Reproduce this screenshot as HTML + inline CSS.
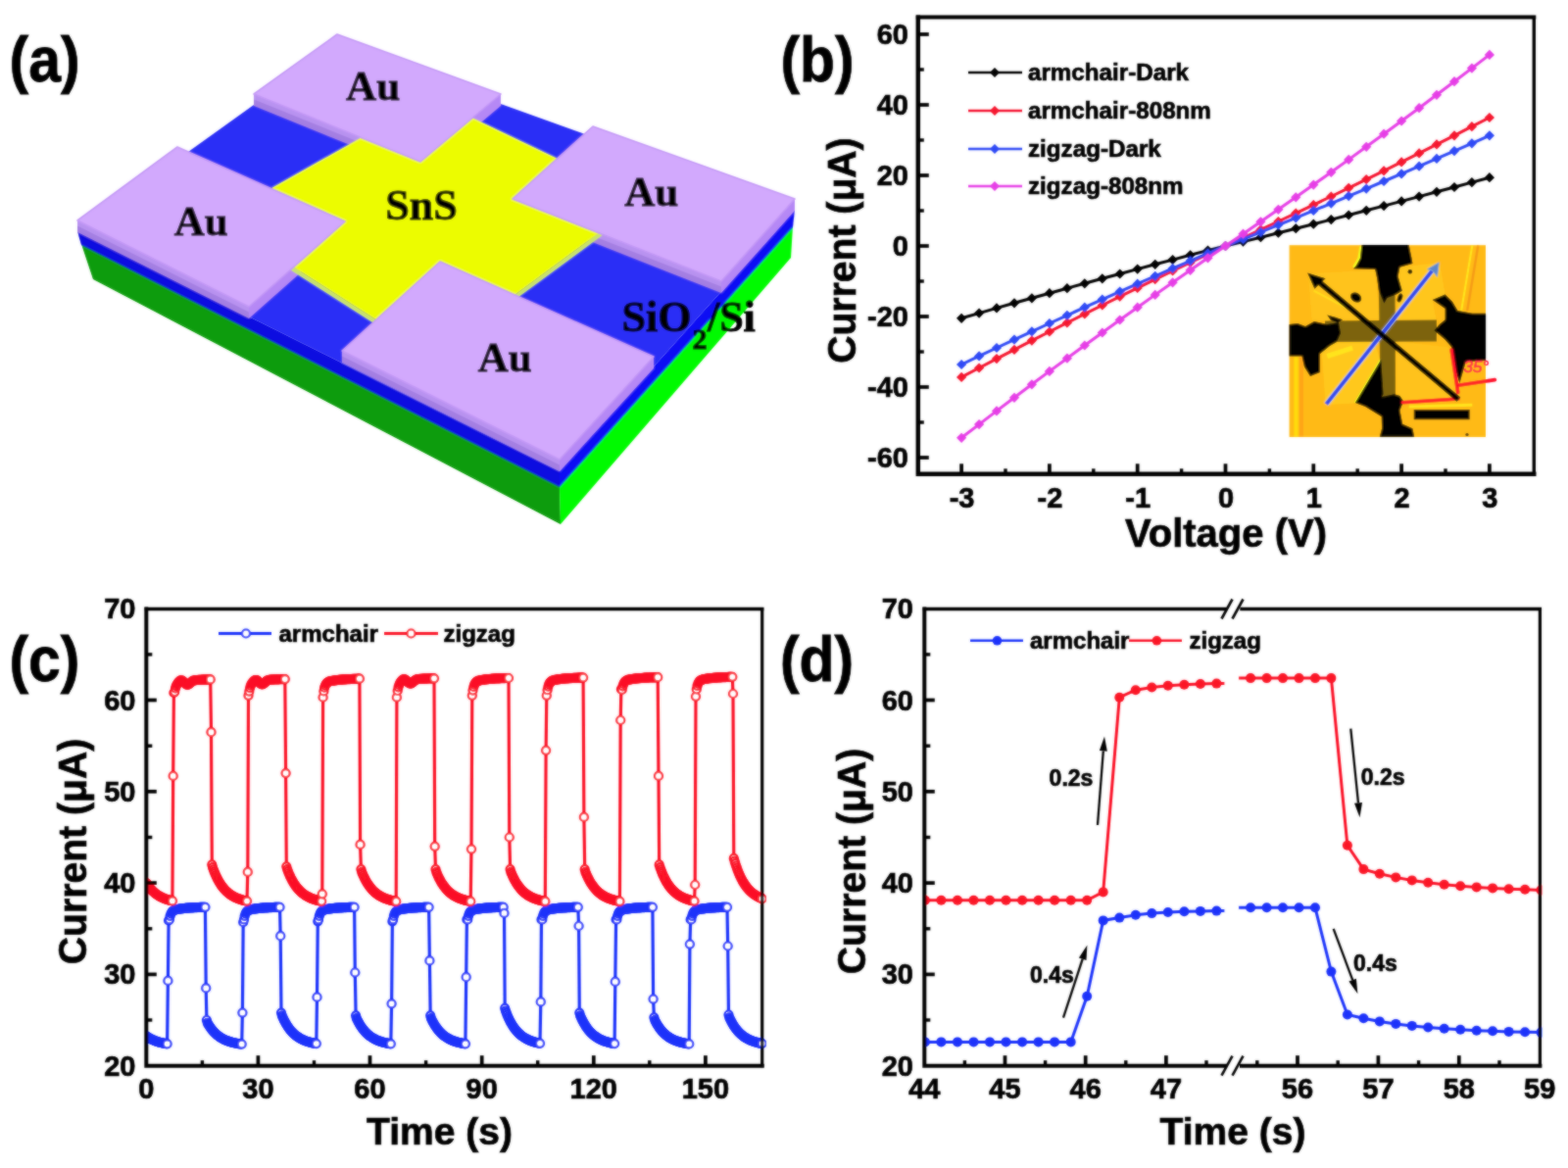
<!DOCTYPE html>
<html lang="en">
<head>
<meta charset="utf-8">
<title>SnS photodetector figure</title>
<style>
html,body{margin:0;padding:0;background:#fff;}
body{width:1600px;height:1192px;overflow:hidden;}
svg{display:block;}
</style>
</head>
<body>
<svg width="1600" height="1192" viewBox="0 0 1600 1192">
<defs><filter id="soft" x="0" y="0" width="100%" height="100%" filterUnits="userSpaceOnUse"><feGaussianBlur stdDeviation="0.8" result="b"/><feComposite in="SourceGraphic" in2="b" operator="arithmetic" k1="0" k2="0.4" k3="0.6" k4="0"/></filter></defs>
<rect width="1600" height="1192" fill="#fff"/>
<g filter="url(#soft)">
<g id="panel-a">
<polygon points="83.0,249.0 571.0,496.0 572.0,535.0 95.0,285.0" fill="#079c07" />
<polygon points="571.0,496.0 809.0,231.0 807.0,263.0 572.0,535.0" fill="#06fa06" />
<polygon points="79.0,236.0 571.0,481.0 571.0,497.0 83.0,250.0" fill="#0808e0" />
<polygon points="571.0,481.0 811.0,214.0 809.0,232.0 571.0,497.0" fill="#1010f4" />
<polygon points="79.0,236.0 344.0,46.0 811.0,214.0 571.0,481.0" fill="#2a2ef6" />
<polygon points="259.0,96.0 429.0,165.0 429.0,177.0 259.0,108.0" fill="#a47fe2" />
<polygon points="259.0,96.0 429.0,165.0 429.0,170.4 259.0,101.4" fill="#b892f0" />
<polygon points="429.0,165.0 511.0,96.0 511.0,108.0 429.0,177.0" fill="#b588f5" />
<polygon points="523.0,203.0 736.0,287.0 736.0,299.0 523.0,215.0" fill="#a47fe2" />
<polygon points="523.0,203.0 736.0,287.0 736.0,292.4 523.0,208.4" fill="#b892f0" />
<polygon points="736.0,287.0 811.0,203.0 811.0,215.0 736.0,299.0" fill="#b588f5" />
<polygon points="79.0,225.0 254.0,313.0 254.0,325.0 79.0,237.0" fill="#a47fe2" />
<polygon points="79.0,225.0 254.0,313.0 254.0,318.4 79.0,230.4" fill="#b892f0" />
<polygon points="254.0,313.0 352.0,226.0 352.0,238.0 254.0,325.0" fill="#b588f5" />
<polygon points="349.0,358.0 571.0,469.0 571.0,481.0 349.0,370.0" fill="#a47fe2" />
<polygon points="349.0,358.0 571.0,469.0 571.0,474.4 349.0,363.4" fill="#b892f0" />
<polygon points="571.0,469.0 667.0,364.0 667.0,376.0 571.0,481.0" fill="#b588f5" />
<polygon points="222.0,223.0 441.0,363.0 657.0,204.0 657.0,209.0 441.0,368.0 222.0,228.0" fill="#c9e36a" />
<polygon points="222.0,223.0 440.0,100.0 657.0,204.0 441.0,363.0" fill="#ecfc06" />
<polygon points="344.0,35.0 511.0,96.0 429.0,165.0 259.0,96.0" fill="#d2a9fd" stroke="#c398f6" stroke-width="1.6" stroke-linejoin="round"/>
<polygon points="605.0,129.0 811.0,203.0 736.0,287.0 523.0,203.0" fill="#d2a9fd" stroke="#c398f6" stroke-width="1.6" stroke-linejoin="round"/>
<polygon points="181.0,150.0 352.0,226.0 254.0,313.0 79.0,225.0" fill="#d2a9fd" stroke="#c398f6" stroke-width="1.6" stroke-linejoin="round"/>
<polygon points="449.0,267.0 667.0,364.0 571.0,469.0 349.0,358.0" fill="#d2a9fd" stroke="#c398f6" stroke-width="1.6" stroke-linejoin="round"/>
<text x="380.6" y="102.0" font-size="43" text-anchor="middle" fill="#000" stroke="#000" stroke-width="1.0" font-family="'Liberation Serif', serif" font-weight="bold" >Au</text>
<text x="664.8" y="210.0" font-size="43" text-anchor="middle" fill="#000" stroke="#000" stroke-width="1.0" font-family="'Liberation Serif', serif" font-weight="bold" >Au</text>
<text x="205.2" y="240.0" font-size="43" text-anchor="middle" fill="#000" stroke="#000" stroke-width="1.0" font-family="'Liberation Serif', serif" font-weight="bold" >Au</text>
<text x="515.2" y="379.0" font-size="43" text-anchor="middle" fill="#000" stroke="#000" stroke-width="1.0" font-family="'Liberation Serif', serif" font-weight="bold" >Au</text>
<text x="430.0" y="223.7" font-size="44" text-anchor="middle" fill="#000" stroke="#000" stroke-width="1.0" font-family="'Liberation Serif', serif" font-weight="bold" >SnS</text>
<text x="634.5" y="338" font-size="44" fill="#000" stroke="#000" stroke-width="1.0" font-family="'Liberation Serif', serif" font-weight="bold">SiO<tspan font-size="30" dy="18" dx="1">2</tspan><tspan dy="-18" dx="0.5">/Si</tspan></text>
</g>
<g id="panel-b">
<polyline points="981.1,324.8 999.1,319.6 1017.0,314.4 1035.0,309.3 1052.9,304.3 1070.9,299.2 1088.9,294.2 1106.8,289.3 1124.8,284.3 1142.7,279.5 1160.7,274.6 1178.7,269.8 1196.6,265.1 1214.6,260.3 1232.5,255.6 1250.5,251.0 1268.5,246.6 1286.4,242.2 1304.4,237.7 1322.3,233.2 1340.3,228.7 1358.3,224.1 1376.2,219.5 1394.2,214.8 1412.1,210.1 1430.1,205.4 1448.1,200.6 1466.0,195.8 1484.0,191.0 1501.9,186.1 1519.9,181.2" fill="none" stroke="#000" stroke-width="3"/>
<path d="M981.1 319.7L986.2 324.8L981.1 329.9L976.0 324.8Z" fill="#000"/>
<path d="M999.1 314.5L1004.2 319.6L999.1 324.7L994.0 319.6Z" fill="#000"/>
<path d="M1017.0 309.3L1022.1 314.4L1017.0 319.5L1011.9 314.4Z" fill="#000"/>
<path d="M1035.0 304.2L1040.1 309.3L1035.0 314.4L1029.9 309.3Z" fill="#000"/>
<path d="M1052.9 299.2L1058.0 304.3L1052.9 309.4L1047.8 304.3Z" fill="#000"/>
<path d="M1070.9 294.1L1076.0 299.2L1070.9 304.3L1065.8 299.2Z" fill="#000"/>
<path d="M1088.9 289.1L1094.0 294.2L1088.9 299.3L1083.8 294.2Z" fill="#000"/>
<path d="M1106.8 284.2L1111.9 289.3L1106.8 294.4L1101.7 289.3Z" fill="#000"/>
<path d="M1124.8 279.2L1129.9 284.3L1124.8 289.4L1119.7 284.3Z" fill="#000"/>
<path d="M1142.7 274.4L1147.8 279.5L1142.7 284.6L1137.6 279.5Z" fill="#000"/>
<path d="M1160.7 269.5L1165.8 274.6L1160.7 279.7L1155.6 274.6Z" fill="#000"/>
<path d="M1178.7 264.7L1183.8 269.8L1178.7 274.9L1173.6 269.8Z" fill="#000"/>
<path d="M1196.6 260.0L1201.7 265.1L1196.6 270.2L1191.5 265.1Z" fill="#000"/>
<path d="M1214.6 255.2L1219.7 260.3L1214.6 265.4L1209.5 260.3Z" fill="#000"/>
<path d="M1232.5 250.5L1237.6 255.6L1232.5 260.7L1227.4 255.6Z" fill="#000"/>
<path d="M1250.5 245.9L1255.6 251.0L1250.5 256.1L1245.4 251.0Z" fill="#000"/>
<path d="M1268.5 241.5L1273.6 246.6L1268.5 251.7L1263.4 246.6Z" fill="#000"/>
<path d="M1286.4 237.1L1291.5 242.2L1286.4 247.3L1281.3 242.2Z" fill="#000"/>
<path d="M1304.4 232.6L1309.5 237.7L1304.4 242.8L1299.3 237.7Z" fill="#000"/>
<path d="M1322.3 228.1L1327.4 233.2L1322.3 238.3L1317.2 233.2Z" fill="#000"/>
<path d="M1340.3 223.6L1345.4 228.7L1340.3 233.8L1335.2 228.7Z" fill="#000"/>
<path d="M1358.3 219.0L1363.4 224.1L1358.3 229.2L1353.2 224.1Z" fill="#000"/>
<path d="M1376.2 214.4L1381.3 219.5L1376.2 224.6L1371.1 219.5Z" fill="#000"/>
<path d="M1394.2 209.7L1399.3 214.8L1394.2 219.9L1389.1 214.8Z" fill="#000"/>
<path d="M1412.1 205.0L1417.2 210.1L1412.1 215.2L1407.0 210.1Z" fill="#000"/>
<path d="M1430.1 200.3L1435.2 205.4L1430.1 210.5L1425.0 205.4Z" fill="#000"/>
<path d="M1448.1 195.5L1453.2 200.6L1448.1 205.7L1443.0 200.6Z" fill="#000"/>
<path d="M1466.0 190.7L1471.1 195.8L1466.0 200.9L1460.9 195.8Z" fill="#000"/>
<path d="M1484.0 185.9L1489.1 191.0L1484.0 196.1L1478.9 191.0Z" fill="#000"/>
<path d="M1501.9 181.0L1507.0 186.1L1501.9 191.2L1496.8 186.1Z" fill="#000"/>
<path d="M1519.9 176.1L1525.0 181.2L1519.9 186.3L1514.8 181.2Z" fill="#000"/>
<polyline points="981.1,384.9 999.1,375.5 1017.0,366.1 1035.0,356.9 1052.9,347.6 1070.9,338.5 1088.9,329.4 1106.8,320.4 1124.8,311.5 1142.7,302.6 1160.7,293.9 1178.7,285.1 1196.6,276.5 1214.6,267.9 1232.5,259.4 1250.5,251.0 1268.5,242.8 1286.4,234.4 1304.4,226.0 1322.3,217.6 1340.3,209.1 1358.3,200.5 1376.2,191.8 1394.2,183.1 1412.1,174.3 1430.1,165.4 1448.1,156.4 1466.0,147.4 1484.0,138.3 1501.9,129.2 1519.9,120.0" fill="none" stroke="#f5142e" stroke-width="3"/>
<path d="M981.1 379.8L986.2 384.9L981.1 390.0L976.0 384.9Z" fill="#f5142e"/>
<path d="M999.1 370.4L1004.2 375.5L999.1 380.6L994.0 375.5Z" fill="#f5142e"/>
<path d="M1017.0 361.0L1022.1 366.1L1017.0 371.2L1011.9 366.1Z" fill="#f5142e"/>
<path d="M1035.0 351.8L1040.1 356.9L1035.0 362.0L1029.9 356.9Z" fill="#f5142e"/>
<path d="M1052.9 342.5L1058.0 347.6L1052.9 352.7L1047.8 347.6Z" fill="#f5142e"/>
<path d="M1070.9 333.4L1076.0 338.5L1070.9 343.6L1065.8 338.5Z" fill="#f5142e"/>
<path d="M1088.9 324.3L1094.0 329.4L1088.9 334.5L1083.8 329.4Z" fill="#f5142e"/>
<path d="M1106.8 315.3L1111.9 320.4L1106.8 325.5L1101.7 320.4Z" fill="#f5142e"/>
<path d="M1124.8 306.4L1129.9 311.5L1124.8 316.6L1119.7 311.5Z" fill="#f5142e"/>
<path d="M1142.7 297.5L1147.8 302.6L1142.7 307.7L1137.6 302.6Z" fill="#f5142e"/>
<path d="M1160.7 288.8L1165.8 293.9L1160.7 299.0L1155.6 293.9Z" fill="#f5142e"/>
<path d="M1178.7 280.0L1183.8 285.1L1178.7 290.2L1173.6 285.1Z" fill="#f5142e"/>
<path d="M1196.6 271.4L1201.7 276.5L1196.6 281.6L1191.5 276.5Z" fill="#f5142e"/>
<path d="M1214.6 262.8L1219.7 267.9L1214.6 273.0L1209.5 267.9Z" fill="#f5142e"/>
<path d="M1232.5 254.3L1237.6 259.4L1232.5 264.5L1227.4 259.4Z" fill="#f5142e"/>
<path d="M1250.5 245.9L1255.6 251.0L1250.5 256.1L1245.4 251.0Z" fill="#f5142e"/>
<path d="M1268.5 237.7L1273.6 242.8L1268.5 247.9L1263.4 242.8Z" fill="#f5142e"/>
<path d="M1286.4 229.3L1291.5 234.4L1286.4 239.5L1281.3 234.4Z" fill="#f5142e"/>
<path d="M1304.4 220.9L1309.5 226.0L1304.4 231.1L1299.3 226.0Z" fill="#f5142e"/>
<path d="M1322.3 212.5L1327.4 217.6L1322.3 222.7L1317.2 217.6Z" fill="#f5142e"/>
<path d="M1340.3 204.0L1345.4 209.1L1340.3 214.2L1335.2 209.1Z" fill="#f5142e"/>
<path d="M1358.3 195.4L1363.4 200.5L1358.3 205.6L1353.2 200.5Z" fill="#f5142e"/>
<path d="M1376.2 186.7L1381.3 191.8L1376.2 196.9L1371.1 191.8Z" fill="#f5142e"/>
<path d="M1394.2 178.0L1399.3 183.1L1394.2 188.2L1389.1 183.1Z" fill="#f5142e"/>
<path d="M1412.1 169.2L1417.2 174.3L1412.1 179.4L1407.0 174.3Z" fill="#f5142e"/>
<path d="M1430.1 160.3L1435.2 165.4L1430.1 170.5L1425.0 165.4Z" fill="#f5142e"/>
<path d="M1448.1 151.3L1453.2 156.4L1448.1 161.5L1443.0 156.4Z" fill="#f5142e"/>
<path d="M1466.0 142.3L1471.1 147.4L1466.0 152.5L1460.9 147.4Z" fill="#f5142e"/>
<path d="M1484.0 133.2L1489.1 138.3L1484.0 143.4L1478.9 138.3Z" fill="#f5142e"/>
<path d="M1501.9 124.1L1507.0 129.2L1501.9 134.3L1496.8 129.2Z" fill="#f5142e"/>
<path d="M1519.9 114.9L1525.0 120.0L1519.9 125.1L1514.8 120.0Z" fill="#f5142e"/>
<polyline points="981.1,372.0 999.1,363.4 1017.0,355.0 1035.0,346.6 1052.9,338.3 1070.9,330.0 1088.9,321.8 1106.8,313.7 1124.8,305.6 1142.7,297.6 1160.7,289.7 1178.7,281.8 1196.6,274.0 1214.6,266.3 1232.5,258.6 1250.5,251.0 1268.5,243.9 1286.4,236.8 1304.4,229.5 1322.3,222.3 1340.3,214.9 1358.3,207.6 1376.2,200.1 1394.2,192.6 1412.1,185.0 1430.1,177.4 1448.1,169.7 1466.0,161.9 1484.0,154.1 1501.9,146.3 1519.9,138.3" fill="none" stroke="#2d48f5" stroke-width="3"/>
<path d="M981.1 366.9L986.2 372.0L981.1 377.1L976.0 372.0Z" fill="#2d48f5"/>
<path d="M999.1 358.3L1004.2 363.4L999.1 368.5L994.0 363.4Z" fill="#2d48f5"/>
<path d="M1017.0 349.9L1022.1 355.0L1017.0 360.1L1011.9 355.0Z" fill="#2d48f5"/>
<path d="M1035.0 341.5L1040.1 346.6L1035.0 351.7L1029.9 346.6Z" fill="#2d48f5"/>
<path d="M1052.9 333.2L1058.0 338.3L1052.9 343.4L1047.8 338.3Z" fill="#2d48f5"/>
<path d="M1070.9 324.9L1076.0 330.0L1070.9 335.1L1065.8 330.0Z" fill="#2d48f5"/>
<path d="M1088.9 316.7L1094.0 321.8L1088.9 326.9L1083.8 321.8Z" fill="#2d48f5"/>
<path d="M1106.8 308.6L1111.9 313.7L1106.8 318.8L1101.7 313.7Z" fill="#2d48f5"/>
<path d="M1124.8 300.5L1129.9 305.6L1124.8 310.7L1119.7 305.6Z" fill="#2d48f5"/>
<path d="M1142.7 292.5L1147.8 297.6L1142.7 302.7L1137.6 297.6Z" fill="#2d48f5"/>
<path d="M1160.7 284.6L1165.8 289.7L1160.7 294.8L1155.6 289.7Z" fill="#2d48f5"/>
<path d="M1178.7 276.7L1183.8 281.8L1178.7 286.9L1173.6 281.8Z" fill="#2d48f5"/>
<path d="M1196.6 268.9L1201.7 274.0L1196.6 279.1L1191.5 274.0Z" fill="#2d48f5"/>
<path d="M1214.6 261.2L1219.7 266.3L1214.6 271.4L1209.5 266.3Z" fill="#2d48f5"/>
<path d="M1232.5 253.5L1237.6 258.6L1232.5 263.7L1227.4 258.6Z" fill="#2d48f5"/>
<path d="M1250.5 245.9L1255.6 251.0L1250.5 256.1L1245.4 251.0Z" fill="#2d48f5"/>
<path d="M1268.5 238.8L1273.6 243.9L1268.5 249.0L1263.4 243.9Z" fill="#2d48f5"/>
<path d="M1286.4 231.7L1291.5 236.8L1286.4 241.9L1281.3 236.8Z" fill="#2d48f5"/>
<path d="M1304.4 224.4L1309.5 229.5L1304.4 234.6L1299.3 229.5Z" fill="#2d48f5"/>
<path d="M1322.3 217.2L1327.4 222.3L1322.3 227.4L1317.2 222.3Z" fill="#2d48f5"/>
<path d="M1340.3 209.8L1345.4 214.9L1340.3 220.0L1335.2 214.9Z" fill="#2d48f5"/>
<path d="M1358.3 202.5L1363.4 207.6L1358.3 212.7L1353.2 207.6Z" fill="#2d48f5"/>
<path d="M1376.2 195.0L1381.3 200.1L1376.2 205.2L1371.1 200.1Z" fill="#2d48f5"/>
<path d="M1394.2 187.5L1399.3 192.6L1394.2 197.7L1389.1 192.6Z" fill="#2d48f5"/>
<path d="M1412.1 179.9L1417.2 185.0L1412.1 190.1L1407.0 185.0Z" fill="#2d48f5"/>
<path d="M1430.1 172.3L1435.2 177.4L1430.1 182.5L1425.0 177.4Z" fill="#2d48f5"/>
<path d="M1448.1 164.6L1453.2 169.7L1448.1 174.8L1443.0 169.7Z" fill="#2d48f5"/>
<path d="M1466.0 156.8L1471.1 161.9L1466.0 167.0L1460.9 161.9Z" fill="#2d48f5"/>
<path d="M1484.0 149.0L1489.1 154.1L1484.0 159.2L1478.9 154.1Z" fill="#2d48f5"/>
<path d="M1501.9 141.2L1507.0 146.3L1501.9 151.4L1496.8 146.3Z" fill="#2d48f5"/>
<path d="M1519.9 133.2L1525.0 138.3L1519.9 143.4L1514.8 138.3Z" fill="#2d48f5"/>
<polyline points="981.1,446.8 999.1,433.1 1017.0,419.4 1035.0,405.8 1052.9,392.3 1070.9,378.9 1088.9,365.7 1106.8,352.5 1124.8,339.5 1142.7,326.5 1160.7,313.7 1178.7,300.9 1196.6,288.3 1214.6,275.8 1232.5,263.3 1250.5,251.0 1268.5,238.7 1286.4,226.3 1304.4,213.8 1322.3,201.3 1340.3,188.6 1358.3,175.8 1376.2,162.9 1394.2,149.8 1412.1,136.7 1430.1,123.5 1448.1,110.2 1466.0,96.8 1484.0,83.2 1501.9,69.6 1519.9,55.9" fill="none" stroke="#e63ee6" stroke-width="3"/>
<path d="M981.1 441.7L986.2 446.8L981.1 451.9L976.0 446.8Z" fill="#e63ee6"/>
<path d="M999.1 428.0L1004.2 433.1L999.1 438.2L994.0 433.1Z" fill="#e63ee6"/>
<path d="M1017.0 414.3L1022.1 419.4L1017.0 424.5L1011.9 419.4Z" fill="#e63ee6"/>
<path d="M1035.0 400.7L1040.1 405.8L1035.0 410.9L1029.9 405.8Z" fill="#e63ee6"/>
<path d="M1052.9 387.2L1058.0 392.3L1052.9 397.4L1047.8 392.3Z" fill="#e63ee6"/>
<path d="M1070.9 373.8L1076.0 378.9L1070.9 384.0L1065.8 378.9Z" fill="#e63ee6"/>
<path d="M1088.9 360.6L1094.0 365.7L1088.9 370.8L1083.8 365.7Z" fill="#e63ee6"/>
<path d="M1106.8 347.4L1111.9 352.5L1106.8 357.6L1101.7 352.5Z" fill="#e63ee6"/>
<path d="M1124.8 334.4L1129.9 339.5L1124.8 344.6L1119.7 339.5Z" fill="#e63ee6"/>
<path d="M1142.7 321.4L1147.8 326.5L1142.7 331.6L1137.6 326.5Z" fill="#e63ee6"/>
<path d="M1160.7 308.6L1165.8 313.7L1160.7 318.8L1155.6 313.7Z" fill="#e63ee6"/>
<path d="M1178.7 295.8L1183.8 300.9L1178.7 306.0L1173.6 300.9Z" fill="#e63ee6"/>
<path d="M1196.6 283.2L1201.7 288.3L1196.6 293.4L1191.5 288.3Z" fill="#e63ee6"/>
<path d="M1214.6 270.7L1219.7 275.8L1214.6 280.9L1209.5 275.8Z" fill="#e63ee6"/>
<path d="M1232.5 258.2L1237.6 263.3L1232.5 268.4L1227.4 263.3Z" fill="#e63ee6"/>
<path d="M1250.5 245.9L1255.6 251.0L1250.5 256.1L1245.4 251.0Z" fill="#e63ee6"/>
<path d="M1268.5 233.6L1273.6 238.7L1268.5 243.8L1263.4 238.7Z" fill="#e63ee6"/>
<path d="M1286.4 221.2L1291.5 226.3L1286.4 231.4L1281.3 226.3Z" fill="#e63ee6"/>
<path d="M1304.4 208.7L1309.5 213.8L1304.4 218.9L1299.3 213.8Z" fill="#e63ee6"/>
<path d="M1322.3 196.2L1327.4 201.3L1322.3 206.4L1317.2 201.3Z" fill="#e63ee6"/>
<path d="M1340.3 183.5L1345.4 188.6L1340.3 193.7L1335.2 188.6Z" fill="#e63ee6"/>
<path d="M1358.3 170.7L1363.4 175.8L1358.3 180.9L1353.2 175.8Z" fill="#e63ee6"/>
<path d="M1376.2 157.8L1381.3 162.9L1376.2 168.0L1371.1 162.9Z" fill="#e63ee6"/>
<path d="M1394.2 144.7L1399.3 149.8L1394.2 154.9L1389.1 149.8Z" fill="#e63ee6"/>
<path d="M1412.1 131.6L1417.2 136.7L1412.1 141.8L1407.0 136.7Z" fill="#e63ee6"/>
<path d="M1430.1 118.4L1435.2 123.5L1430.1 128.6L1425.0 123.5Z" fill="#e63ee6"/>
<path d="M1448.1 105.1L1453.2 110.2L1448.1 115.3L1443.0 110.2Z" fill="#e63ee6"/>
<path d="M1466.0 91.7L1471.1 96.8L1466.0 101.9L1460.9 96.8Z" fill="#e63ee6"/>
<path d="M1484.0 78.1L1489.1 83.2L1484.0 88.3L1478.9 83.2Z" fill="#e63ee6"/>
<path d="M1501.9 64.5L1507.0 69.6L1501.9 74.7L1496.8 69.6Z" fill="#e63ee6"/>
<path d="M1519.9 50.8L1525.0 55.9L1519.9 61.0L1514.8 55.9Z" fill="#e63ee6"/>
<path d="M936.8 17.6V483.8H1565.3" stroke="#000" stroke-linecap="square" fill="none" stroke-width="4.4"/><path d="M936.8 17.6H1565.3" stroke="#000" stroke-linecap="square" fill="none" stroke-width="4.0"/><path d="M1565.3 17.6V483.8" stroke="#000" stroke-linecap="square" fill="none" stroke-width="3.4"/>
<line x1="936.8" y1="35.0" x2="947.8" y2="35.0" stroke="#000" stroke-width="3.7"/><line x1="936.8" y1="107.0" x2="947.8" y2="107.0" stroke="#000" stroke-width="3.7"/><line x1="936.8" y1="179.0" x2="947.8" y2="179.0" stroke="#000" stroke-width="3.7"/><line x1="936.8" y1="251.0" x2="947.8" y2="251.0" stroke="#000" stroke-width="3.7"/><line x1="936.8" y1="323.0" x2="947.8" y2="323.0" stroke="#000" stroke-width="3.7"/><line x1="936.8" y1="395.0" x2="947.8" y2="395.0" stroke="#000" stroke-width="3.7"/><line x1="936.8" y1="467.0" x2="947.8" y2="467.0" stroke="#000" stroke-width="3.7"/>
<line x1="936.8" y1="71.0" x2="942.8" y2="71.0" stroke="#000" stroke-width="3.4"/><line x1="936.8" y1="143.0" x2="942.8" y2="143.0" stroke="#000" stroke-width="3.4"/><line x1="936.8" y1="215.0" x2="942.8" y2="215.0" stroke="#000" stroke-width="3.4"/><line x1="936.8" y1="287.0" x2="942.8" y2="287.0" stroke="#000" stroke-width="3.4"/><line x1="936.8" y1="359.0" x2="942.8" y2="359.0" stroke="#000" stroke-width="3.4"/><line x1="936.8" y1="431.0" x2="942.8" y2="431.0" stroke="#000" stroke-width="3.4"/>
<line x1="981.1" y1="483.8" x2="981.1" y2="473.3" stroke="#000" stroke-width="3.7"/><line x1="1070.9" y1="483.8" x2="1070.9" y2="473.3" stroke="#000" stroke-width="3.7"/><line x1="1160.7" y1="483.8" x2="1160.7" y2="473.3" stroke="#000" stroke-width="3.7"/><line x1="1250.5" y1="483.8" x2="1250.5" y2="473.3" stroke="#000" stroke-width="3.7"/><line x1="1340.3" y1="483.8" x2="1340.3" y2="473.3" stroke="#000" stroke-width="3.7"/><line x1="1430.1" y1="483.8" x2="1430.1" y2="473.3" stroke="#000" stroke-width="3.7"/><line x1="1519.9" y1="483.8" x2="1519.9" y2="473.3" stroke="#000" stroke-width="3.7"/>
<line x1="1026.0" y1="483.8" x2="1026.0" y2="478.3" stroke="#000" stroke-width="3.4"/><line x1="1115.8" y1="483.8" x2="1115.8" y2="478.3" stroke="#000" stroke-width="3.4"/><line x1="1205.6" y1="483.8" x2="1205.6" y2="478.3" stroke="#000" stroke-width="3.4"/><line x1="1295.4" y1="483.8" x2="1295.4" y2="478.3" stroke="#000" stroke-width="3.4"/><line x1="1385.2" y1="483.8" x2="1385.2" y2="478.3" stroke="#000" stroke-width="3.4"/><line x1="1475.0" y1="483.8" x2="1475.0" y2="478.3" stroke="#000" stroke-width="3.4"/>
<text x="927.0" y="45.3" font-size="29" text-anchor="end" fill="#000" stroke="#000" stroke-width="0.7" font-family="'Liberation Sans', sans-serif" font-weight="bold" >60</text>
<text x="927.0" y="117.3" font-size="29" text-anchor="end" fill="#000" stroke="#000" stroke-width="0.7" font-family="'Liberation Sans', sans-serif" font-weight="bold" >40</text>
<text x="927.0" y="189.3" font-size="29" text-anchor="end" fill="#000" stroke="#000" stroke-width="0.7" font-family="'Liberation Sans', sans-serif" font-weight="bold" >20</text>
<text x="927.0" y="261.3" font-size="29" text-anchor="end" fill="#000" stroke="#000" stroke-width="0.7" font-family="'Liberation Sans', sans-serif" font-weight="bold" >0</text>
<text x="927.0" y="333.3" font-size="29" text-anchor="end" fill="#000" stroke="#000" stroke-width="0.7" font-family="'Liberation Sans', sans-serif" font-weight="bold" >-20</text>
<text x="927.0" y="405.3" font-size="29" text-anchor="end" fill="#000" stroke="#000" stroke-width="0.7" font-family="'Liberation Sans', sans-serif" font-weight="bold" >-40</text>
<text x="927.0" y="477.3" font-size="29" text-anchor="end" fill="#000" stroke="#000" stroke-width="0.7" font-family="'Liberation Sans', sans-serif" font-weight="bold" >-60</text>
<text x="981.6" y="518.0" font-size="29" text-anchor="middle" fill="#000" stroke="#000" stroke-width="0.7" font-family="'Liberation Sans', sans-serif" font-weight="bold" >-3</text>
<text x="1071.4" y="518.0" font-size="29" text-anchor="middle" fill="#000" stroke="#000" stroke-width="0.7" font-family="'Liberation Sans', sans-serif" font-weight="bold" >-2</text>
<text x="1161.2" y="518.0" font-size="29" text-anchor="middle" fill="#000" stroke="#000" stroke-width="0.7" font-family="'Liberation Sans', sans-serif" font-weight="bold" >-1</text>
<text x="1251.0" y="518.0" font-size="29" text-anchor="middle" fill="#000" stroke="#000" stroke-width="0.7" font-family="'Liberation Sans', sans-serif" font-weight="bold" >0</text>
<text x="1340.8" y="518.0" font-size="29" text-anchor="middle" fill="#000" stroke="#000" stroke-width="0.7" font-family="'Liberation Sans', sans-serif" font-weight="bold" >1</text>
<text x="1430.6" y="518.0" font-size="29" text-anchor="middle" fill="#000" stroke="#000" stroke-width="0.7" font-family="'Liberation Sans', sans-serif" font-weight="bold" >2</text>
<text x="1520.4" y="518.0" font-size="29" text-anchor="middle" fill="#000" stroke="#000" stroke-width="0.7" font-family="'Liberation Sans', sans-serif" font-weight="bold" >3</text>
<text x="1251.0" y="557.8" font-size="40" text-anchor="middle" fill="#000" stroke="#000" stroke-width="0.7" font-family="'Liberation Sans', sans-serif" font-weight="bold" >Voltage (V)</text>
<text transform="translate(873,255.6) rotate(-90)" font-size="40" text-anchor="middle" textLength="230.5" lengthAdjust="spacingAndGlyphs" fill="#000" stroke="#000" stroke-width="0.7" font-family="'Liberation Sans', sans-serif" font-weight="bold">Current (μA)</text>
<line x1="988" y1="74" x2="1043" y2="74" stroke="#000" stroke-width="2.4"/>
<path d="M1015.0 69.0L1020.0 74.0L1015.0 79.0L1010.0 74.0Z" fill="#000"/>
<text x="1049.0" y="82.3" font-size="24.2" text-anchor="start" fill="#000" stroke="#000" stroke-width="0.7" font-family="'Liberation Sans', sans-serif" font-weight="bold" >armchair-Dark</text>
<line x1="988" y1="113" x2="1043" y2="113" stroke="#f5142e" stroke-width="2.4"/>
<path d="M1015.0 108.0L1020.0 113.0L1015.0 118.0L1010.0 113.0Z" fill="#f5142e"/>
<text x="1049.0" y="121.3" font-size="24.2" text-anchor="start" fill="#000" stroke="#000" stroke-width="0.7" font-family="'Liberation Sans', sans-serif" font-weight="bold" >armchair-808nm</text>
<line x1="988" y1="152" x2="1043" y2="152" stroke="#2d48f5" stroke-width="2.4"/>
<path d="M1015.0 147.0L1020.0 152.0L1015.0 157.0L1010.0 152.0Z" fill="#2d48f5"/>
<text x="1049.0" y="160.3" font-size="24.2" text-anchor="start" fill="#000" stroke="#000" stroke-width="0.7" font-family="'Liberation Sans', sans-serif" font-weight="bold" >zigzag-Dark</text>
<line x1="988" y1="190" x2="1043" y2="190" stroke="#e63ee6" stroke-width="2.4"/>
<path d="M1015.0 185.0L1020.0 190.0L1015.0 195.0L1010.0 190.0Z" fill="#e63ee6"/>
<text x="1049.0" y="198.3" font-size="24.2" text-anchor="start" fill="#000" stroke="#000" stroke-width="0.7" font-family="'Liberation Sans', sans-serif" font-weight="bold" >zigzag-808nm</text>
<g id="inset">
<rect x="1315.6" y="250.2" width="200.4" height="195.8" fill="#ffba17"/>
<polygon points="1334.9,279.1 1403.2,275.5 1407.8,326.2 1338.6,327.1" fill="#ffc31c" />
<polygon points="1428.5,272.7 1469.1,268.1 1474.6,300.4 1461.7,305.9 1465.4,326.2 1424.8,326.2" fill="#ffc61e" />
<polygon points="1348.8,358.8 1361.7,349.6 1402.3,347.8 1407.8,366.2 1382.0,411.4 1352.5,413.3" fill="#ffc81c" />
<polygon points="1424.8,347.8 1478.3,354.2 1483.8,396.7 1480.1,408.7 1431.2,409.6 1424.8,400.4" fill="#ffc21a" />
<polyline points="1409.2,366.7 1382.9,411.0" fill="none" stroke="#f4ff20" stroke-width="2.4"/>
<polyline points="1354.3,363.5 1380.1,355.2" fill="none" stroke="#fff01c" stroke-width="5" opacity="0.7"/>
<polyline points="1388.4,251.5 1386.6,263.5 1381.1,272.7" fill="none" stroke="#f4ff20" stroke-width="2.2"/>
<polyline points="1502.3,250.5 1491.2,317.0" fill="none" stroke="#ffe61c" stroke-width="2"/>
<polyline points="1508.3,250.5 1497.2,317.0" fill="none" stroke="#f59a12" stroke-width="2.4"/>
<polyline points="1322.5,364.4 1322.5,445.6" fill="none" stroke="#ffdf0a" stroke-width="4.2" opacity="0.9"/>
<polyline points="1328.0,364.4 1328.0,445.6" fill="none" stroke="#ffa012" stroke-width="4" opacity="0.8"/>
<polyline points="1427.5,357.0 1474.6,396.7" fill="none" stroke="#ffe21c" stroke-width="2" opacity="0.8"/>
<polyline points="1437.7,415.1 1502.3,413.3" fill="none" stroke="#ffee1c" stroke-width="3" opacity="0.8"/>
<polyline points="1340.5,296.7 1393.1,324.4" fill="none" stroke="#ffe41c" stroke-width="2" opacity="0.8"/>
<polygon points="1352.0,327.5 1466.0,326.5 1466.0,348.5 1352.0,349.0" fill="#7d6410" />
<polygon points="1406.5,276.0 1423.5,290.0 1424.0,406.0 1409.5,412.0 1408.0,366.0" fill="#7d6410" />
<polygon points="1389.4,250.1 1388.0,263.5 1383.8,271.3 1381.1,274.3 1403.2,275.0 1405.1,283.8 1406.9,296.7 1412.4,309.6 1415.5,304.1 1424.8,300.4 1430.8,296.7 1426.6,281.9 1428.5,272.7 1441.4,269.0 1440.5,263.5 1437.7,250.1" fill="#040404" />
<polygon points="1315.6,331.0 1324.0,330.0 1332.0,333.0 1341.0,328.0 1354.0,331.0 1366.0,329.0 1368.0,340.0 1364.0,349.0 1357.0,353.0 1347.0,361.0 1347.0,380.0 1337.0,384.0 1331.0,374.5 1328.5,363.5 1315.6,363.5" fill="#040404" />
<polygon points="1461.7,305.9 1474.6,300.4 1482.0,307.8 1487.5,317.0 1502.3,319.8 1516.1,319.8 1516.1,368.1 1495.8,369.0 1489.4,391.1 1483.8,372.7 1481.1,354.2 1474.6,346.8 1463.5,337.3 1469.1,330.8 1474.6,326.2 1474.6,315.1" fill="#040404" />
<polygon points="1409.2,367.1 1382.9,411.0 1393.1,415.1 1409.7,425.3 1410.1,437.3 1407.8,445.8 1443.2,445.8 1441.4,437.3 1431.2,432.7 1428.5,418.8 1432.1,409.6 1428.5,404.1 1422.9,402.2 1410.0,405.0 1411.5,402.2" fill="#040404" />
<ellipse cx="1383.6" cy="303.5" rx="6" ry="4.6" fill="#040404" transform="rotate(35 1383.6 303.5)"/>
<polygon points="1354.3,321.6 1361.7,323.4 1370.0,326.2 1365.4,329.0 1358.0,327.1" fill="#040404" />
<circle cx="1438.8" cy="277.3" r="2.2" fill="#040404"/>
<ellipse cx="1428.5" cy="304" rx="2.4" ry="4.6" fill="#040404" transform="rotate(20 1428.5 304)"/>
<circle cx="1497" cy="443.5" r="1.6" fill="#3a2a08"/>
<line x1="1431.2" y1="410.7" x2="1488.0" y2="407.0" stroke="#ff1028" stroke-width="3.6" stroke-linecap="round"/>
<line x1="1488.0" y1="393.2" x2="1525.4" y2="387.6" stroke="#ff1028" stroke-width="3.6" stroke-linecap="round"/>
<line x1="1481.1" y1="357.0" x2="1487.7" y2="400.4" stroke="#ff1028" stroke-width="3.6" stroke-linecap="round"/>
<text x="1493.5" y="379.5" font-size="17" fill="#ff2048" stroke="#ff2048" stroke-width="0.6" font-family="'Liberation Sans', sans-serif" font-style="italic">35°</text>
<line x1="1353.4" y1="412.4" x2="1461.7" y2="275.9" stroke="#b9cdea" stroke-width="5.4"/>
<line x1="1353.4" y1="412.4" x2="1461.7" y2="275.9" stroke="#2543ec" stroke-width="3.8"/>
<polygon points="1468.3,267.9 1466.5,282.4 1462.1,276.4 1456.6,274.7" fill="#5a86cc" stroke="#86a8d8" stroke-width="1"/>
<line x1="1488.4" y1="407.6" x2="1345.1" y2="287.0" stroke="#040404" stroke-width="5.8"/>
<polygon points="1334.2,278.4 1352.5,284.2 1341.4,294.8" fill="#040404" />
<rect x="1442.8" y="418" width="56.8" height="10.2" fill="#040404"/>
</g>
</g>
<g id="panel-c">
<defs><marker id="mr" markerUnits="userSpaceOnUse" markerWidth="14" markerHeight="14" refX="7" refY="7"><circle cx="7" cy="7" r="4.0" fill="#fff" stroke="#fb1226" stroke-width="2.2"/></marker><marker id="mb" markerUnits="userSpaceOnUse" markerWidth="14" markerHeight="14" refX="7" refY="7"><circle cx="7" cy="7" r="4.0" fill="#fff" stroke="#1d31fa" stroke-width="2.2"/></marker><clipPath id="clipc"><rect x="149.3" y="621.5" width="632.4000000000001" height="466.20000000000005"/></clipPath></defs>
<polyline clip-path="url(#clipc)" points="149.3,1057.4 150.1,1058.0 150.8,1058.5 151.6,1059.0 152.3,1059.4 153.1,1059.9 153.9,1060.3 154.6,1060.7 155.4,1061.1 156.1,1061.4 156.9,1061.7 157.7,1062.1 158.4,1062.3 159.2,1062.6 160.0,1062.9 160.7,1063.1 161.5,1063.4 162.2,1063.6 163.0,1063.8 163.8,1064.0 164.5,1064.2 165.3,1064.3 166.0,1064.5 166.8,1064.6 167.6,1064.8 168.3,1064.9 169.1,1065.1 169.8,1065.2 170.6,1065.3 171.4,1000.9 172.1,939.4 172.9,938.4 173.6,934.8 174.4,932.5 175.2,931.1 175.9,930.2 176.7,929.5 177.4,929.1 178.2,928.7 179.0,928.5 179.7,928.3 180.5,928.1 181.3,928.0 182.0,927.8 182.8,927.7 183.5,927.6 184.3,927.5 185.1,927.4 185.8,927.3 186.6,927.2 187.3,927.1 188.1,927.0 188.9,926.9 189.6,926.8 190.4,926.8 191.1,926.7 191.9,926.6 192.7,926.6 193.4,926.5 194.2,926.5 194.9,926.4 195.7,926.3 196.5,926.3 197.2,926.3 198.0,926.2 198.8,926.2 199.5,926.1 200.3,926.1 201.0,926.1 201.8,926.0 202.6,926.0 203.3,926.0 204.1,925.9 204.8,925.9 205.6,925.9 206.4,925.9 207.1,925.8 207.9,925.8 208.6,925.8 209.4,925.8 210.2,1008.4 210.9,1041.0 211.7,1043.8 212.4,1045.2 213.2,1046.4 214.0,1047.6 214.7,1048.7 215.5,1049.8 216.3,1050.8 217.0,1051.7 217.8,1052.6 218.5,1053.4 219.3,1054.2 220.1,1055.0 220.8,1055.7 221.6,1056.3 222.3,1056.9 223.1,1057.5 223.9,1058.1 224.6,1058.6 225.4,1059.1 226.1,1059.5 226.9,1060.0 227.7,1060.4 228.4,1060.8 229.2,1061.1 229.9,1061.5 230.7,1061.8 231.5,1062.1 232.2,1062.4 233.0,1062.7 233.7,1062.9 234.5,1063.2 235.3,1063.4 236.0,1063.6 236.8,1063.8 237.6,1064.0 238.3,1064.2 239.1,1064.4 239.8,1064.5 240.6,1064.7 241.4,1064.8 242.1,1065.0 242.9,1065.1 243.6,1065.2 244.4,1065.3 245.2,1065.4 245.9,1065.5 246.7,1065.6 247.4,1033.6 248.2,941.2 249.0,938.4 249.7,934.8 250.5,932.5 251.2,931.1 252.0,930.2 252.8,929.5 253.5,929.1 254.3,928.7 255.1,928.5 255.8,928.3 256.6,928.1 257.3,928.0 258.1,927.8 258.9,927.7 259.6,927.6 260.4,927.5 261.1,927.4 261.9,927.3 262.7,927.2 263.4,927.1 264.2,927.0 264.9,926.9 265.7,926.8 266.5,926.8 267.2,926.7 268.0,926.6 268.7,926.6 269.5,926.5 270.3,926.5 271.0,926.4 271.8,926.3 272.5,926.3 273.3,926.3 274.1,926.2 274.8,926.2 275.6,926.1 276.4,926.1 277.1,926.1 277.9,926.0 278.6,926.0 279.4,926.0 280.2,925.9 280.9,925.9 281.7,925.9 282.4,925.9 283.2,925.8 284.0,925.8 284.7,925.8 285.5,925.8 286.2,955.2 287.0,1033.6 287.8,1036.4 288.5,1038.1 289.3,1039.8 290.0,1041.4 290.8,1042.8 291.6,1044.2 292.3,1045.5 293.1,1046.8 293.9,1047.9 294.6,1049.0 295.4,1050.1 296.1,1051.1 296.9,1052.0 297.7,1052.8 298.4,1053.7 299.2,1054.4 299.9,1055.2 300.7,1055.8 301.5,1056.5 302.2,1057.1 303.0,1057.7 303.7,1058.2 304.5,1058.7 305.3,1059.2 306.0,1059.7 306.8,1060.1 307.5,1060.5 308.3,1060.9 309.1,1061.2 309.8,1061.6 310.6,1061.9 311.4,1062.2 312.1,1062.5 312.9,1062.8 313.6,1063.0 314.4,1063.2 315.2,1063.5 315.9,1063.7 316.7,1063.9 317.4,1064.1 318.2,1064.2 319.0,1064.4 319.7,1064.6 320.5,1064.7 321.2,1064.9 322.0,1065.0 322.8,1065.1 323.5,1017.7 324.3,940.3 325.0,938.4 325.8,934.8 326.6,932.5 327.3,931.1 328.1,930.2 328.8,929.5 329.6,929.1 330.4,928.7 331.1,928.5 331.9,928.3 332.7,928.1 333.4,928.0 334.2,927.8 334.9,927.7 335.7,927.6 336.5,927.5 337.2,927.4 338.0,927.3 338.7,927.2 339.5,927.1 340.3,927.0 341.0,926.9 341.8,926.8 342.5,926.8 343.3,926.7 344.1,926.6 344.8,926.6 345.6,926.5 346.3,926.5 347.1,926.4 347.9,926.3 348.6,926.3 349.4,926.3 350.2,926.2 350.9,926.2 351.7,926.1 352.4,926.1 353.2,926.1 354.0,926.0 354.7,926.0 355.5,926.0 356.2,925.9 357.0,925.9 357.8,925.9 358.5,925.9 359.3,925.8 360.0,925.8 360.8,925.8 361.6,925.8 362.3,992.5 363.1,1036.4 363.8,1039.2 364.6,1040.8 365.4,1042.3 366.1,1043.7 366.9,1045.1 367.6,1046.3 368.4,1047.5 369.2,1048.6 369.9,1049.7 370.7,1050.7 371.5,1051.6 372.2,1052.5 373.0,1053.4 373.7,1054.1 374.5,1054.9 375.3,1055.6 376.0,1056.3 376.8,1056.9 377.5,1057.5 378.3,1058.0 379.1,1058.5 379.8,1059.0 380.6,1059.5 381.3,1059.9 382.1,1060.4 382.9,1060.7 383.6,1061.1 384.4,1061.5 385.1,1061.8 385.9,1062.1 386.7,1062.4 387.4,1062.7 388.2,1062.9 389.0,1063.2 389.7,1063.4 390.5,1063.6 391.2,1063.8 392.0,1064.0 392.8,1064.2 393.5,1064.4 394.3,1064.5 395.0,1064.7 395.8,1064.8 396.6,1064.9 397.3,1065.1 398.1,1065.2 398.8,1065.3 399.6,1024.3 400.4,940.3 401.1,938.4 401.9,934.8 402.6,932.5 403.4,931.1 404.2,930.2 404.9,929.5 405.7,929.1 406.5,928.7 407.2,928.5 408.0,928.3 408.7,928.1 409.5,928.0 410.3,927.8 411.0,927.7 411.8,927.6 412.5,927.5 413.3,927.4 414.1,927.3 414.8,927.2 415.6,927.1 416.3,927.0 417.1,926.9 417.9,926.8 418.6,926.8 419.4,926.7 420.1,926.6 420.9,926.6 421.7,926.5 422.4,926.5 423.2,926.4 423.9,926.3 424.7,926.3 425.5,926.3 426.2,926.2 427.0,926.2 427.8,926.1 428.5,926.1 429.3,926.1 430.0,926.0 430.8,926.0 431.6,926.0 432.3,925.9 433.1,925.9 433.8,925.9 434.6,925.9 435.4,925.8 436.1,925.8 436.9,925.8 437.6,925.8 438.4,980.4 439.2,1036.4 439.9,1039.2 440.7,1040.8 441.4,1042.3 442.2,1043.7 443.0,1045.1 443.7,1046.3 444.5,1047.5 445.3,1048.6 446.0,1049.7 446.8,1050.7 447.5,1051.6 448.3,1052.5 449.1,1053.4 449.8,1054.1 450.6,1054.9 451.3,1055.6 452.1,1056.3 452.9,1056.9 453.6,1057.5 454.4,1058.0 455.1,1058.5 455.9,1059.0 456.7,1059.5 457.4,1059.9 458.2,1060.4 458.9,1060.7 459.7,1061.1 460.5,1061.5 461.2,1061.8 462.0,1062.1 462.7,1062.4 463.5,1062.7 464.3,1062.9 465.0,1063.2 465.8,1063.4 466.6,1063.6 467.3,1063.8 468.1,1064.0 468.8,1064.2 469.6,1064.4 470.4,1064.5 471.1,1064.7 471.9,1064.8 472.6,1064.9 473.4,1065.1 474.2,1065.2 474.9,1065.3 475.7,997.2 476.4,938.4 477.2,938.4 478.0,934.8 478.7,932.5 479.5,931.1 480.2,930.2 481.0,929.5 481.8,929.1 482.5,928.7 483.3,928.5 484.1,928.3 484.8,928.1 485.6,928.0 486.3,927.8 487.1,927.7 487.9,927.6 488.6,927.5 489.4,927.4 490.1,927.3 490.9,927.2 491.7,927.1 492.4,927.0 493.2,926.9 493.9,926.8 494.7,926.8 495.5,926.7 496.2,926.6 497.0,926.6 497.7,926.5 498.5,926.5 499.3,926.4 500.0,926.3 500.8,926.3 501.6,926.3 502.3,926.2 503.1,926.2 503.8,926.1 504.6,926.1 505.4,926.1 506.1,926.0 506.9,926.0 507.6,926.0 508.4,925.9 509.2,925.9 509.9,925.9 510.7,925.9 511.4,925.8 512.2,925.8 513.0,925.8 513.7,925.8 514.5,931.9 515.2,1028.9 516.0,1031.7 516.8,1033.7 517.5,1035.7 518.3,1037.5 519.0,1039.2 519.8,1040.8 520.6,1042.3 521.3,1043.7 522.1,1045.0 522.9,1046.3 523.6,1047.5 524.4,1048.6 525.1,1049.7 525.9,1050.7 526.7,1051.6 527.4,1052.5 528.2,1053.3 528.9,1054.1 529.7,1054.9 530.5,1055.6 531.2,1056.2 532.0,1056.9 532.7,1057.5 533.5,1058.0 534.3,1058.5 535.0,1059.0 535.8,1059.5 536.5,1059.9 537.3,1060.3 538.1,1060.7 538.8,1061.1 539.6,1061.4 540.4,1061.8 541.1,1062.1 541.9,1062.4 542.6,1062.6 543.4,1062.9 544.2,1063.2 544.9,1063.4 545.7,1063.6 546.4,1063.8 547.2,1064.0 548.0,1064.2 548.7,1064.3 549.5,1064.5 550.2,1064.7 551.0,1064.8 551.8,1022.4 552.5,938.4 553.3,938.4 554.0,934.8 554.8,932.5 555.6,931.1 556.3,930.2 557.1,929.5 557.8,929.1 558.6,928.7 559.4,928.5 560.1,928.3 560.9,928.1 561.7,928.0 562.4,927.8 563.2,927.7 563.9,927.6 564.7,927.5 565.5,927.4 566.2,927.3 567.0,927.2 567.7,927.1 568.5,927.0 569.3,926.9 570.0,926.8 570.8,926.8 571.5,926.7 572.3,926.6 573.1,926.6 573.8,926.5 574.6,926.5 575.3,926.4 576.1,926.3 576.9,926.3 577.6,926.3 578.4,926.2 579.2,926.2 579.9,926.1 580.7,926.1 581.4,926.1 582.2,926.0 583.0,926.0 583.7,926.0 584.5,925.9 585.2,925.9 586.0,925.9 586.8,925.9 587.5,925.8 588.3,925.8 589.0,925.8 589.8,925.8 590.6,945.0 591.3,1033.6 592.1,1036.4 592.8,1038.1 593.6,1039.8 594.4,1041.4 595.1,1042.8 595.9,1044.2 596.7,1045.5 597.4,1046.8 598.2,1047.9 598.9,1049.0 599.7,1050.1 600.5,1051.1 601.2,1052.0 602.0,1052.8 602.7,1053.7 603.5,1054.4 604.3,1055.2 605.0,1055.8 605.8,1056.5 606.5,1057.1 607.3,1057.7 608.1,1058.2 608.8,1058.7 609.6,1059.2 610.3,1059.7 611.1,1060.1 611.9,1060.5 612.6,1060.9 613.4,1061.2 614.1,1061.6 614.9,1061.9 615.7,1062.2 616.4,1062.5 617.2,1062.8 618.0,1063.0 618.7,1063.2 619.5,1063.5 620.2,1063.7 621.0,1063.9 621.8,1064.1 622.5,1064.2 623.3,1064.4 624.0,1064.6 624.8,1064.7 625.6,1064.9 626.3,1065.0 627.1,1065.1 627.8,1001.9 628.6,938.4 629.4,938.4 630.1,934.8 630.9,932.5 631.6,931.1 632.4,930.2 633.2,929.5 633.9,929.1 634.7,928.7 635.5,928.5 636.2,928.3 637.0,928.1 637.7,928.0 638.5,927.8 639.3,927.7 640.0,927.6 640.8,927.5 641.5,927.4 642.3,927.3 643.1,927.2 643.8,927.1 644.6,927.0 645.3,926.9 646.1,926.8 646.9,926.8 647.6,926.7 648.4,926.6 649.1,926.6 649.9,926.5 650.7,926.5 651.4,926.4 652.2,926.3 652.9,926.3 653.7,926.3 654.5,926.2 655.2,926.2 656.0,926.1 656.8,926.1 657.5,926.1 658.3,926.0 659.0,926.0 659.8,926.0 660.6,925.9 661.3,925.9 662.1,925.9 662.8,925.9 663.6,925.8 664.4,925.8 665.1,925.8 665.9,925.8 666.6,1019.6 667.4,1038.3 668.2,1041.1 668.9,1042.5 669.7,1043.9 670.4,1045.3 671.2,1046.5 672.0,1047.7 672.7,1048.8 673.5,1049.9 674.3,1050.9 675.0,1051.8 675.8,1052.7 676.5,1053.5 677.3,1054.3 678.1,1055.0 678.8,1055.7 679.6,1056.4 680.3,1057.0 681.1,1057.6 681.9,1058.1 682.6,1058.6 683.4,1059.1 684.1,1059.6 684.9,1060.0 685.7,1060.4 686.4,1060.8 687.2,1061.2 687.9,1061.5 688.7,1061.8 689.5,1062.1 690.2,1062.4 691.0,1062.7 691.8,1063.0 692.5,1063.2 693.3,1063.4 694.0,1063.6 694.8,1063.8 695.6,1064.0 696.3,1064.2 697.1,1064.4 697.8,1064.5 698.6,1064.7 699.4,1064.8 700.1,1065.0 700.9,1065.1 701.6,1065.2 702.4,1065.3 703.2,1065.4 703.9,963.6 704.7,938.4 705.4,938.4 706.2,934.8 707.0,932.5 707.7,931.1 708.5,930.2 709.2,929.5 710.0,929.1 710.8,928.7 711.5,928.5 712.3,928.3 713.1,928.1 713.8,928.0 714.6,927.8 715.3,927.7 716.1,927.6 716.9,927.5 717.6,927.4 718.4,927.3 719.1,927.2 719.9,927.1 720.7,927.0 721.4,926.9 722.2,926.8 722.9,926.8 723.7,926.7 724.5,926.6 725.2,926.6 726.0,926.5 726.7,926.5 727.5,926.4 728.3,926.3 729.0,926.3 729.8,926.3 730.6,926.2 731.3,926.2 732.1,926.1 732.8,926.1 733.6,926.1 734.4,926.0 735.1,926.0 735.9,926.0 736.6,925.9 737.4,925.9 738.2,925.9 738.9,925.9 739.7,925.8 740.4,925.8 741.2,925.8 742.0,925.8 742.7,965.5 743.5,1035.5 744.2,1038.3 745.0,1039.9 745.8,1041.5 746.5,1042.9 747.3,1044.3 748.0,1045.6 748.8,1046.9 749.6,1048.0 750.3,1049.1 751.1,1050.1 751.9,1051.1 752.6,1052.0 753.4,1052.9 754.1,1053.7 754.9,1054.5 755.7,1055.2 756.4,1055.9 757.2,1056.5 757.9,1057.1 758.7,1057.7 759.5,1058.3 760.2,1058.8 761.0,1059.2 761.7,1059.7 762.5,1060.1 763.3,1060.5 764.0,1060.9 764.8,1061.3 765.5,1061.6 766.3,1061.9 767.1,1062.2 767.8,1062.5 768.6,1062.8 769.4,1063.0 770.1,1063.3 770.9,1063.5 771.6,1063.7 772.4,1063.9 773.2,1064.1 773.9,1064.3 774.7,1064.4 775.4,1064.6 776.2,1064.7 777.0,1064.9 777.7,1065.0" fill="none" stroke="#1d31fa" stroke-width="3.2" marker-start="url(#mb)" marker-mid="url(#mb)" marker-end="url(#mb)"/>
<polyline clip-path="url(#clipc)" points="149.3,901.0 150.1,902.2 150.8,903.4 151.6,904.4 152.3,905.4 153.1,906.4 153.9,907.3 154.6,908.1 155.4,908.9 156.1,909.7 156.9,910.4 157.7,911.1 158.4,911.7 159.2,912.3 160.0,912.8 160.7,913.4 161.5,913.9 162.2,914.3 163.0,914.8 163.8,915.2 164.5,915.6 165.3,916.0 166.0,916.3 166.8,916.6 167.6,917.0 168.3,917.3 169.1,917.5 169.8,917.8 170.6,918.0 171.4,918.3 172.1,918.5 172.9,918.7 173.6,918.9 174.4,919.1 175.2,919.2 175.9,919.4 176.7,791.9 177.4,707.0 178.2,706.1 179.0,702.4 179.7,700.1 180.5,698.5 181.3,697.3 182.0,696.3 182.8,695.5 183.5,694.9 184.3,694.4 185.1,694.3 185.8,694.6 186.6,695.1 187.3,695.8 188.1,696.6 188.9,697.4 189.6,698.1 190.4,698.6 191.1,698.8 191.9,698.7 192.7,698.3 193.4,697.7 194.2,697.0 194.9,696.3 195.7,695.6 196.5,695.1 197.2,694.7 198.0,694.5 198.8,694.3 199.5,694.2 200.3,694.1 201.0,694.0 201.8,694.0 202.6,693.9 203.3,693.9 204.1,693.9 204.8,693.8 205.6,693.8 206.4,693.7 207.1,693.7 207.9,693.7 208.6,693.6 209.4,693.6 210.2,693.6 210.9,693.6 211.7,693.5 212.4,693.5 213.2,693.5 214.0,693.5 214.7,693.4 215.5,747.2 216.3,882.4 217.0,885.2 217.8,887.3 218.5,889.3 219.3,891.2 220.1,893.0 220.8,894.6 221.6,896.2 222.3,897.7 223.1,899.1 223.9,900.4 224.6,901.6 225.4,902.8 226.1,903.9 226.9,904.9 227.7,905.9 228.4,906.8 229.2,907.7 229.9,908.5 230.7,909.3 231.5,910.0 232.2,910.7 233.0,911.4 233.7,912.0 234.5,912.6 235.3,913.1 236.0,913.6 236.8,914.1 237.6,914.6 238.3,915.0 239.1,915.4 239.8,915.8 240.6,916.1 241.4,916.5 242.1,916.8 242.9,917.1 243.6,917.4 244.4,917.7 245.2,917.9 245.9,918.2 246.7,918.4 247.4,918.6 248.2,918.8 249.0,919.0 249.7,919.2 250.5,919.3 251.2,919.5 252.0,919.6 252.8,889.9 253.5,709.8 254.3,705.7 255.1,702.1 255.8,699.7 256.6,698.1 257.3,696.9 258.1,696.0 258.9,695.1 259.6,694.5 260.4,694.1 261.1,694.0 261.9,694.2 262.7,694.7 263.4,695.4 264.2,696.2 264.9,697.0 265.7,697.7 266.5,698.2 267.2,698.4 268.0,698.3 268.7,698.0 269.5,697.4 270.3,696.6 271.0,695.9 271.8,695.2 272.5,694.7 273.3,694.4 274.1,694.1 274.8,693.9 275.6,693.8 276.4,693.7 277.1,693.7 277.9,693.6 278.6,693.6 279.4,693.5 280.2,693.5 280.9,693.4 281.7,693.4 282.4,693.4 283.2,693.3 284.0,693.3 284.7,693.3 285.5,693.2 286.2,693.2 287.0,693.2 287.8,693.2 288.5,693.1 289.3,693.1 290.0,693.1 290.8,693.1 291.6,789.1 292.3,884.3 293.1,887.1 293.9,889.1 294.6,891.0 295.4,892.8 296.1,894.4 296.9,896.0 297.7,897.5 298.4,898.9 299.2,900.2 299.9,901.5 300.7,902.7 301.5,903.8 302.2,904.8 303.0,905.8 303.7,906.7 304.5,907.6 305.3,908.4 306.0,909.2 306.8,910.0 307.5,910.6 308.3,911.3 309.1,911.9 309.8,912.5 310.6,913.0 311.4,913.6 312.1,914.1 312.9,914.5 313.6,914.9 314.4,915.4 315.2,915.7 315.9,916.1 316.7,916.4 317.4,916.8 318.2,917.1 319.0,917.4 319.7,917.6 320.5,917.9 321.2,918.1 322.0,918.4 322.8,918.6 323.5,918.8 324.3,919.0 325.0,919.1 325.8,919.3 326.6,919.5 327.3,919.6 328.1,919.8 328.8,912.3 329.6,711.7 330.4,705.4 331.1,701.7 331.9,699.5 332.7,698.0 333.4,697.1 334.2,696.5 334.9,696.0 335.7,695.7 336.5,695.4 337.2,695.2 338.0,695.0 338.7,694.9 339.5,694.8 340.3,694.6 341.0,694.5 341.8,694.4 342.5,694.3 343.3,694.2 344.1,694.1 344.8,694.0 345.6,693.9 346.3,693.8 347.1,693.8 347.9,693.7 348.6,693.6 349.4,693.6 350.2,693.5 350.9,693.4 351.7,693.4 352.4,693.3 353.2,693.3 354.0,693.2 354.7,693.2 355.5,693.1 356.2,693.1 357.0,693.1 357.8,693.0 358.5,693.0 359.3,693.0 360.0,692.9 360.8,692.9 361.6,692.9 362.3,692.8 363.1,692.8 363.8,692.8 364.6,692.8 365.4,692.7 366.1,692.7 366.9,692.7 367.6,861.9 368.4,887.1 369.2,889.9 369.9,891.7 370.7,893.5 371.5,895.1 372.2,896.7 373.0,898.1 373.7,899.5 374.5,900.8 375.3,902.0 376.0,903.1 376.8,904.2 377.5,905.2 378.3,906.2 379.1,907.1 379.8,908.0 380.6,908.8 381.3,909.5 382.1,910.3 382.9,910.9 383.6,911.6 384.4,912.2 385.1,912.7 385.9,913.3 386.7,913.8 387.4,914.2 388.2,914.7 389.0,915.1 389.7,915.5 390.5,915.9 391.2,916.2 392.0,916.6 392.8,916.9 393.5,917.2 394.3,917.5 395.0,917.7 395.8,918.0 396.6,918.2 397.3,918.4 398.1,918.6 398.8,918.8 399.6,919.0 400.4,919.2 401.1,919.4 401.9,919.5 402.6,919.7 403.4,919.8 404.2,919.9 404.9,711.7 405.7,705.0 406.5,701.3 407.2,699.0 408.0,697.4 408.7,696.2 409.5,695.2 410.3,694.4 411.0,693.7 411.8,693.3 412.5,693.2 413.3,693.5 414.1,694.0 414.8,694.7 415.6,695.5 416.3,696.3 417.1,696.9 417.9,697.4 418.6,697.7 419.4,697.6 420.1,697.2 420.9,696.6 421.7,695.9 422.4,695.1 423.2,694.5 423.9,694.0 424.7,693.6 425.5,693.3 426.2,693.2 427.0,693.1 427.8,693.0 428.5,692.9 429.3,692.9 430.0,692.8 430.8,692.8 431.6,692.7 432.3,692.7 433.1,692.7 433.8,692.6 434.6,692.6 435.4,692.6 436.1,692.5 436.9,692.5 437.6,692.5 438.4,692.4 439.2,692.4 439.9,692.4 440.7,692.4 441.4,692.3 442.2,692.3 443.0,692.3 443.7,863.8 444.5,887.1 445.3,889.9 446.0,891.7 446.8,893.5 447.5,895.1 448.3,896.7 449.1,898.1 449.8,899.5 450.6,900.8 451.3,902.0 452.1,903.1 452.9,904.2 453.6,905.2 454.4,906.2 455.1,907.1 455.9,908.0 456.7,908.8 457.4,909.5 458.2,910.3 458.9,910.9 459.7,911.6 460.5,912.2 461.2,912.7 462.0,913.3 462.7,913.8 463.5,914.2 464.3,914.7 465.0,915.1 465.8,915.5 466.6,915.9 467.3,916.2 468.1,916.6 468.8,916.9 469.6,917.2 470.4,917.5 471.1,917.7 471.9,918.0 472.6,918.2 473.4,918.4 474.2,918.6 474.9,918.8 475.7,919.0 476.4,919.2 477.2,919.4 478.0,919.5 478.7,919.7 479.5,919.8 480.2,919.9 481.0,866.6 481.8,709.8 482.5,704.6 483.3,701.0 484.1,698.7 484.8,697.3 485.6,696.4 486.3,695.7 487.1,695.3 487.9,694.9 488.6,694.7 489.4,694.5 490.1,694.3 490.9,694.1 491.7,694.0 492.4,693.9 493.2,693.8 493.9,693.7 494.7,693.5 495.5,693.4 496.2,693.4 497.0,693.3 497.7,693.2 498.5,693.1 499.3,693.0 500.0,693.0 500.8,692.9 501.6,692.8 502.3,692.8 503.1,692.7 503.8,692.6 504.6,692.6 505.4,692.5 506.1,692.5 506.9,692.4 507.6,692.4 508.4,692.4 509.2,692.3 509.9,692.3 510.7,692.2 511.4,692.2 512.2,692.2 513.0,692.1 513.7,692.1 514.5,692.1 515.2,692.1 516.0,692.0 516.8,692.0 517.5,692.0 518.3,692.0 519.0,692.0 519.8,854.5 520.6,887.1 521.3,889.9 522.1,891.7 522.9,893.5 523.6,895.1 524.4,896.7 525.1,898.1 525.9,899.5 526.7,900.8 527.4,902.0 528.2,903.1 528.9,904.2 529.7,905.2 530.5,906.2 531.2,907.1 532.0,908.0 532.7,908.8 533.5,909.5 534.3,910.3 535.0,910.9 535.8,911.6 536.5,912.2 537.3,912.7 538.1,913.3 538.8,913.8 539.6,914.2 540.4,914.7 541.1,915.1 541.9,915.5 542.6,915.9 543.4,916.2 544.2,916.6 544.9,916.9 545.7,917.2 546.4,917.5 547.2,917.7 548.0,918.0 548.7,918.2 549.5,918.4 550.2,918.6 551.0,918.8 551.8,919.0 552.5,919.2 553.3,919.4 554.0,919.5 554.8,919.7 555.6,919.8 556.3,919.9 557.1,765.8 557.8,709.8 558.6,704.2 559.4,700.6 560.1,698.4 560.9,696.9 561.7,696.0 562.4,695.3 563.2,694.9 563.9,694.6 564.7,694.3 565.5,694.1 566.2,693.9 567.0,693.8 567.7,693.6 568.5,693.5 569.3,693.4 570.0,693.3 570.8,693.2 571.5,693.1 572.3,693.0 573.1,692.9 573.8,692.8 574.6,692.7 575.3,692.7 576.1,692.6 576.9,692.5 577.6,692.4 578.4,692.4 579.2,692.3 579.9,692.3 580.7,692.2 581.4,692.2 582.2,692.1 583.0,692.1 583.7,692.0 584.5,692.0 585.2,691.9 586.0,691.9 586.8,691.9 587.5,691.8 588.3,691.8 589.0,691.8 589.8,691.7 590.6,691.7 591.3,691.7 592.1,691.7 592.8,691.6 593.6,691.6 594.4,691.6 595.1,691.6 595.9,833.9 596.7,887.1 597.4,889.9 598.2,891.7 598.9,893.5 599.7,895.1 600.5,896.7 601.2,898.1 602.0,899.5 602.7,900.8 603.5,902.0 604.3,903.1 605.0,904.2 605.8,905.2 606.5,906.2 607.3,907.1 608.1,908.0 608.8,908.8 609.6,909.5 610.3,910.3 611.1,910.9 611.9,911.6 612.6,912.2 613.4,912.7 614.1,913.3 614.9,913.8 615.7,914.2 616.4,914.7 617.2,915.1 618.0,915.5 618.7,915.9 619.5,916.2 620.2,916.6 621.0,916.9 621.8,917.2 622.5,917.5 623.3,917.7 624.0,918.0 624.8,918.2 625.6,918.4 626.3,918.6 627.1,918.8 627.8,919.0 628.6,919.2 629.4,919.4 630.1,919.5 630.9,919.7 631.6,919.8 632.4,919.9 633.2,735.0 633.9,703.3 634.7,703.9 635.5,700.3 636.2,698.0 637.0,696.5 637.7,695.6 638.5,695.0 639.3,694.5 640.0,694.2 640.8,693.9 641.5,693.7 642.3,693.6 643.1,693.4 643.8,693.3 644.6,693.1 645.3,693.0 646.1,692.9 646.9,692.8 647.6,692.7 648.4,692.6 649.1,692.5 649.9,692.4 650.7,692.4 651.4,692.3 652.2,692.2 652.9,692.1 653.7,692.1 654.5,692.0 655.2,692.0 656.0,691.9 656.8,691.8 657.5,691.8 658.3,691.7 659.0,691.7 659.8,691.7 660.6,691.6 661.3,691.6 662.1,691.5 662.8,691.5 663.6,691.5 664.4,691.4 665.1,691.4 665.9,691.4 666.6,691.3 667.4,691.3 668.2,691.3 668.9,691.3 669.7,691.2 670.4,691.2 671.2,691.2 672.0,791.9 672.7,882.4 673.5,885.2 674.3,887.3 675.0,889.3 675.8,891.2 676.5,893.0 677.3,894.6 678.1,896.2 678.8,897.7 679.6,899.1 680.3,900.4 681.1,901.6 681.9,902.8 682.6,903.9 683.4,904.9 684.1,905.9 684.9,906.8 685.7,907.7 686.4,908.5 687.2,909.3 687.9,910.0 688.7,910.7 689.5,911.4 690.2,912.0 691.0,912.6 691.8,913.1 692.5,913.6 693.3,914.1 694.0,914.6 694.8,915.0 695.6,915.4 696.3,915.8 697.1,916.1 697.8,916.5 698.6,916.8 699.4,917.1 700.1,917.4 700.9,917.7 701.6,917.9 702.4,918.2 703.2,918.4 703.9,918.6 704.7,918.8 705.4,919.0 706.2,919.2 707.0,919.3 707.7,919.5 708.5,919.6 709.2,903.0 710.0,710.8 710.8,703.5 711.5,699.9 712.3,697.6 713.1,696.2 713.8,695.2 714.6,694.6 715.3,694.1 716.1,693.8 716.9,693.6 717.6,693.4 718.4,693.2 719.1,693.0 719.9,692.9 720.7,692.8 721.4,692.6 722.2,692.5 722.9,692.4 723.7,692.3 724.5,692.2 725.2,692.1 726.0,692.1 726.7,692.0 727.5,691.9 728.3,691.8 729.0,691.8 729.8,691.7 730.6,691.6 731.3,691.6 732.1,691.5 732.8,691.5 733.6,691.4 734.4,691.4 735.1,691.3 735.9,691.3 736.6,691.2 737.4,691.2 738.2,691.2 738.9,691.1 739.7,691.1 740.4,691.1 741.2,691.0 742.0,691.0 742.7,691.0 743.5,690.9 744.2,690.9 745.0,690.9 745.8,690.9 746.5,690.9 747.3,690.8 748.0,708.0 748.8,875.9 749.6,878.7 750.3,881.2 751.1,883.5 751.9,885.7 752.6,887.8 753.4,889.8 754.1,891.6 754.9,893.4 755.7,895.0 756.4,896.5 757.2,898.0 757.9,899.4 758.7,900.7 759.5,901.9 760.2,903.1 761.0,904.1 761.7,905.2 762.5,906.1 763.3,907.0 764.0,907.9 764.8,908.7 765.5,909.5 766.3,910.2 767.1,910.9 767.8,911.5 768.6,912.1 769.4,912.7 770.1,913.2 770.9,913.7 771.6,914.2 772.4,914.7 773.2,915.1 773.9,915.5 774.7,915.9 775.4,916.2 776.2,916.6 777.0,916.9 777.7,917.2" fill="none" stroke="#fb1226" stroke-width="3.2" marker-start="url(#mr)" marker-mid="url(#mr)" marker-end="url(#mr)"/>
<path d="M149.3 621.5V1087.7H777.7" stroke="#000" stroke-linecap="square" fill="none" stroke-width="4.0"/><path d="M149.3 621.5H777.7" stroke="#000" stroke-linecap="square" fill="none" stroke-width="3.3"/><path d="M777.7 621.5V1087.7" stroke="#000" stroke-linecap="square" fill="none" stroke-width="3.2"/>
<line x1="149.3" y1="714.5" x2="159.8" y2="714.5" stroke="#000" stroke-width="3.7"/><line x1="149.3" y1="807.8" x2="159.8" y2="807.8" stroke="#000" stroke-width="3.7"/><line x1="149.3" y1="901.1" x2="159.8" y2="901.1" stroke="#000" stroke-width="3.7"/><line x1="149.3" y1="994.4" x2="159.8" y2="994.4" stroke="#000" stroke-width="3.7"/>
<line x1="149.3" y1="667.9" x2="155.3" y2="667.9" stroke="#000" stroke-width="3.4"/><line x1="149.3" y1="761.2" x2="155.3" y2="761.2" stroke="#000" stroke-width="3.4"/><line x1="149.3" y1="854.5" x2="155.3" y2="854.5" stroke="#000" stroke-width="3.4"/><line x1="149.3" y1="947.8" x2="155.3" y2="947.8" stroke="#000" stroke-width="3.4"/><line x1="149.3" y1="1041.0" x2="155.3" y2="1041.0" stroke="#000" stroke-width="3.4"/>
<line x1="263.4" y1="1087.7" x2="263.4" y2="1077.2" stroke="#000" stroke-width="3.7"/><line x1="377.5" y1="1087.7" x2="377.5" y2="1077.2" stroke="#000" stroke-width="3.7"/><line x1="491.7" y1="1087.7" x2="491.7" y2="1077.2" stroke="#000" stroke-width="3.7"/><line x1="605.8" y1="1087.7" x2="605.8" y2="1077.2" stroke="#000" stroke-width="3.7"/><line x1="719.9" y1="1087.7" x2="719.9" y2="1077.2" stroke="#000" stroke-width="3.7"/>
<line x1="206.4" y1="1087.7" x2="206.4" y2="1082.2" stroke="#000" stroke-width="3.4"/><line x1="320.5" y1="1087.7" x2="320.5" y2="1082.2" stroke="#000" stroke-width="3.4"/><line x1="434.6" y1="1087.7" x2="434.6" y2="1082.2" stroke="#000" stroke-width="3.4"/><line x1="548.7" y1="1087.7" x2="548.7" y2="1082.2" stroke="#000" stroke-width="3.4"/><line x1="662.8" y1="1087.7" x2="662.8" y2="1082.2" stroke="#000" stroke-width="3.4"/>
<text x="138.5" y="631.2" font-size="29" text-anchor="end" fill="#000" stroke="#000" stroke-width="0.7" font-family="'Liberation Sans', sans-serif" font-weight="bold" >70</text>
<text x="138.5" y="724.5" font-size="29" text-anchor="end" fill="#000" stroke="#000" stroke-width="0.7" font-family="'Liberation Sans', sans-serif" font-weight="bold" >60</text>
<text x="138.5" y="817.8" font-size="29" text-anchor="end" fill="#000" stroke="#000" stroke-width="0.7" font-family="'Liberation Sans', sans-serif" font-weight="bold" >50</text>
<text x="138.5" y="911.1" font-size="29" text-anchor="end" fill="#000" stroke="#000" stroke-width="0.7" font-family="'Liberation Sans', sans-serif" font-weight="bold" >40</text>
<text x="138.5" y="1004.4" font-size="29" text-anchor="end" fill="#000" stroke="#000" stroke-width="0.7" font-family="'Liberation Sans', sans-serif" font-weight="bold" >30</text>
<text x="138.5" y="1097.7" font-size="29" text-anchor="end" fill="#000" stroke="#000" stroke-width="0.7" font-family="'Liberation Sans', sans-serif" font-weight="bold" >20</text>
<text x="149.3" y="1120.8" font-size="29" text-anchor="middle" fill="#000" stroke="#000" stroke-width="0.7" font-family="'Liberation Sans', sans-serif" font-weight="bold" >0</text>
<text x="263.4" y="1120.8" font-size="29" text-anchor="middle" fill="#000" stroke="#000" stroke-width="0.7" font-family="'Liberation Sans', sans-serif" font-weight="bold" >30</text>
<text x="377.5" y="1120.8" font-size="29" text-anchor="middle" fill="#000" stroke="#000" stroke-width="0.7" font-family="'Liberation Sans', sans-serif" font-weight="bold" >60</text>
<text x="491.7" y="1120.8" font-size="29" text-anchor="middle" fill="#000" stroke="#000" stroke-width="0.7" font-family="'Liberation Sans', sans-serif" font-weight="bold" >90</text>
<text x="605.8" y="1120.8" font-size="29" text-anchor="middle" fill="#000" stroke="#000" stroke-width="0.7" font-family="'Liberation Sans', sans-serif" font-weight="bold" >120</text>
<text x="719.9" y="1120.8" font-size="29" text-anchor="middle" fill="#000" stroke="#000" stroke-width="0.7" font-family="'Liberation Sans', sans-serif" font-weight="bold" >150</text>
<text x="448.5" y="1168.0" font-size="39" text-anchor="middle" fill="#000" stroke="#000" stroke-width="0.7" font-family="'Liberation Sans', sans-serif" font-weight="bold" >Time (s)</text>
<text transform="translate(88,869) rotate(-90)" font-size="40" text-anchor="middle" textLength="230.5" lengthAdjust="spacingAndGlyphs" fill="#000" stroke="#000" stroke-width="0.7" font-family="'Liberation Sans', sans-serif" font-weight="bold">Current (μA)</text>
<line x1="223" y1="646.5" x2="277" y2="646.5" stroke="#1d31fa" stroke-width="3"/><circle cx="251" cy="646.5" r="4.0" fill="#fff" stroke="#1d31fa" stroke-width="2.2"/>
<text x="284.5" y="655.3" font-size="24" text-anchor="start" fill="#000" stroke="#000" stroke-width="0.7" font-family="'Liberation Sans', sans-serif" font-weight="bold" >armchair</text>
<line x1="392" y1="646.5" x2="447" y2="646.5" stroke="#fb1226" stroke-width="3"/><circle cx="419.5" cy="646.5" r="4.0" fill="#fff" stroke="#fb1226" stroke-width="2.2"/>
<text x="452.5" y="655.3" font-size="24" text-anchor="start" fill="#000" stroke="#000" stroke-width="0.7" font-family="'Liberation Sans', sans-serif" font-weight="bold" >zigzag</text>
</g>
<g id="panel-d">
<defs><clipPath id="clipd"><rect x="943.3" y="621.5" width="630.1000000000001" height="466.20000000000005"/></clipPath></defs>
<g clip-path="url(#clipd)">
<polyline points="943.3,1063.4 943.9,1063.4 960.4,1063.4 977.0,1063.4 993.5,1063.4 1010.0,1063.4 1026.5,1063.4 1043.1,1063.4 1059.6,1063.4 1076.1,1063.4 1092.7,1063.4 1109.2,1016.8 1125.7,939.4 1142.3,936.6 1158.8,933.8 1175.3,932.1 1191.8,931.0 1208.4,930.3 1224.9,929.9 1241.4,929.6 1249.4,929.6" fill="none" stroke="#1d31fa" stroke-width="3"/>
<polyline points="1264.1,926.3 1276.1,926.3 1292.6,926.3 1309.0,926.3 1325.5,926.3 1342.0,926.3 1358.4,991.6 1374.9,1035.5 1391.4,1039.3 1407.8,1042.4 1424.3,1044.9 1440.8,1046.9 1457.2,1048.5 1473.7,1049.8 1490.2,1050.8 1506.7,1051.7 1523.1,1052.3 1539.6,1052.9 1556.1,1053.3 1572.5,1053.6 1571.4,1053.6" fill="none" stroke="#1d31fa" stroke-width="3"/>
<circle cx="943.9" cy="1063.4" r="5" fill="#1d31fa"/>
<circle cx="960.4" cy="1063.4" r="5" fill="#1d31fa"/>
<circle cx="977.0" cy="1063.4" r="5" fill="#1d31fa"/>
<circle cx="993.5" cy="1063.4" r="5" fill="#1d31fa"/>
<circle cx="1010.0" cy="1063.4" r="5" fill="#1d31fa"/>
<circle cx="1026.5" cy="1063.4" r="5" fill="#1d31fa"/>
<circle cx="1043.1" cy="1063.4" r="5" fill="#1d31fa"/>
<circle cx="1059.6" cy="1063.4" r="5" fill="#1d31fa"/>
<circle cx="1076.1" cy="1063.4" r="5" fill="#1d31fa"/>
<circle cx="1092.7" cy="1063.4" r="5" fill="#1d31fa"/>
<circle cx="1109.2" cy="1016.8" r="5" fill="#1d31fa"/>
<circle cx="1125.7" cy="939.4" r="5" fill="#1d31fa"/>
<circle cx="1142.3" cy="936.6" r="5" fill="#1d31fa"/>
<circle cx="1158.8" cy="933.8" r="5" fill="#1d31fa"/>
<circle cx="1175.3" cy="932.1" r="5" fill="#1d31fa"/>
<circle cx="1191.8" cy="931.0" r="5" fill="#1d31fa"/>
<circle cx="1208.4" cy="930.3" r="5" fill="#1d31fa"/>
<circle cx="1224.9" cy="929.9" r="5" fill="#1d31fa"/>
<circle cx="1241.4" cy="929.6" r="5" fill="#1d31fa"/>
<circle cx="1276.1" cy="926.3" r="5" fill="#1d31fa"/>
<circle cx="1292.6" cy="926.3" r="5" fill="#1d31fa"/>
<circle cx="1309.0" cy="926.3" r="5" fill="#1d31fa"/>
<circle cx="1325.5" cy="926.3" r="5" fill="#1d31fa"/>
<circle cx="1342.0" cy="926.3" r="5" fill="#1d31fa"/>
<circle cx="1358.4" cy="991.6" r="5" fill="#1d31fa"/>
<circle cx="1374.9" cy="1035.5" r="5" fill="#1d31fa"/>
<circle cx="1391.4" cy="1039.3" r="5" fill="#1d31fa"/>
<circle cx="1407.8" cy="1042.4" r="5" fill="#1d31fa"/>
<circle cx="1424.3" cy="1044.9" r="5" fill="#1d31fa"/>
<circle cx="1440.8" cy="1046.9" r="5" fill="#1d31fa"/>
<circle cx="1457.2" cy="1048.5" r="5" fill="#1d31fa"/>
<circle cx="1473.7" cy="1049.8" r="5" fill="#1d31fa"/>
<circle cx="1490.2" cy="1050.8" r="5" fill="#1d31fa"/>
<circle cx="1506.7" cy="1051.7" r="5" fill="#1d31fa"/>
<circle cx="1523.1" cy="1052.3" r="5" fill="#1d31fa"/>
<circle cx="1539.6" cy="1052.9" r="5" fill="#1d31fa"/>
<circle cx="1556.1" cy="1053.3" r="5" fill="#1d31fa"/>
<circle cx="1572.5" cy="1053.6" r="5" fill="#1d31fa"/>
</g>
<g clip-path="url(#clipd)">
<polyline points="943.3,918.8 943.9,918.8 960.4,918.8 977.0,918.8 993.5,918.8 1010.0,918.8 1026.5,918.8 1043.1,918.8 1059.6,918.8 1076.1,918.8 1092.7,918.8 1109.2,918.8 1125.7,910.4 1142.3,711.7 1158.8,704.2 1175.3,701.5 1191.8,699.8 1208.4,698.7 1224.9,698.0 1241.4,697.6 1249.4,697.6" fill="none" stroke="#fb1226" stroke-width="3"/>
<polyline points="1264.1,692.1 1276.1,692.1 1292.6,692.1 1309.0,692.1 1325.5,692.1 1342.0,692.1 1358.4,692.1 1374.9,862.8 1391.4,887.1 1407.8,891.7 1424.3,895.4 1440.8,898.4 1457.2,900.8 1473.7,902.7 1490.2,904.2 1506.7,905.4 1523.1,906.4 1539.6,907.2 1556.1,907.8 1572.5,908.4 1571.4,908.4" fill="none" stroke="#fb1226" stroke-width="3"/>
<circle cx="943.9" cy="918.8" r="5" fill="#fb1226"/>
<circle cx="960.4" cy="918.8" r="5" fill="#fb1226"/>
<circle cx="977.0" cy="918.8" r="5" fill="#fb1226"/>
<circle cx="993.5" cy="918.8" r="5" fill="#fb1226"/>
<circle cx="1010.0" cy="918.8" r="5" fill="#fb1226"/>
<circle cx="1026.5" cy="918.8" r="5" fill="#fb1226"/>
<circle cx="1043.1" cy="918.8" r="5" fill="#fb1226"/>
<circle cx="1059.6" cy="918.8" r="5" fill="#fb1226"/>
<circle cx="1076.1" cy="918.8" r="5" fill="#fb1226"/>
<circle cx="1092.7" cy="918.8" r="5" fill="#fb1226"/>
<circle cx="1109.2" cy="918.8" r="5" fill="#fb1226"/>
<circle cx="1125.7" cy="910.4" r="5" fill="#fb1226"/>
<circle cx="1142.3" cy="711.7" r="5" fill="#fb1226"/>
<circle cx="1158.8" cy="704.2" r="5" fill="#fb1226"/>
<circle cx="1175.3" cy="701.5" r="5" fill="#fb1226"/>
<circle cx="1191.8" cy="699.8" r="5" fill="#fb1226"/>
<circle cx="1208.4" cy="698.7" r="5" fill="#fb1226"/>
<circle cx="1224.9" cy="698.0" r="5" fill="#fb1226"/>
<circle cx="1241.4" cy="697.6" r="5" fill="#fb1226"/>
<circle cx="1276.1" cy="692.1" r="5" fill="#fb1226"/>
<circle cx="1292.6" cy="692.1" r="5" fill="#fb1226"/>
<circle cx="1309.0" cy="692.1" r="5" fill="#fb1226"/>
<circle cx="1325.5" cy="692.1" r="5" fill="#fb1226"/>
<circle cx="1342.0" cy="692.1" r="5" fill="#fb1226"/>
<circle cx="1358.4" cy="692.1" r="5" fill="#fb1226"/>
<circle cx="1374.9" cy="862.8" r="5" fill="#fb1226"/>
<circle cx="1391.4" cy="887.1" r="5" fill="#fb1226"/>
<circle cx="1407.8" cy="891.7" r="5" fill="#fb1226"/>
<circle cx="1424.3" cy="895.4" r="5" fill="#fb1226"/>
<circle cx="1440.8" cy="898.4" r="5" fill="#fb1226"/>
<circle cx="1457.2" cy="900.8" r="5" fill="#fb1226"/>
<circle cx="1473.7" cy="902.7" r="5" fill="#fb1226"/>
<circle cx="1490.2" cy="904.2" r="5" fill="#fb1226"/>
<circle cx="1506.7" cy="905.4" r="5" fill="#fb1226"/>
<circle cx="1523.1" cy="906.4" r="5" fill="#fb1226"/>
<circle cx="1539.6" cy="907.2" r="5" fill="#fb1226"/>
<circle cx="1556.1" cy="907.8" r="5" fill="#fb1226"/>
<circle cx="1572.5" cy="908.4" r="5" fill="#fb1226"/>
</g>
<path d="M943.3 621.5V1087.7H1250M1267 1087.7H1571.4" fill="none" stroke="#000" stroke-width="4.0" stroke-linecap="square"/>
<path d="M943.3 621.5H1250M1267 621.5H1571.4" fill="none" stroke="#000" stroke-width="3.3" stroke-linecap="square"/>
<path d="M1571.4 621.5V1087.7" fill="none" stroke="#000" stroke-width="3.2" stroke-linecap="square"/>
<line x1="1246.5" y1="631.5" x2="1257.5" y2="611.5" stroke="#000" stroke-width="2.6"/>
<line x1="1257.5" y1="631.5" x2="1268.5" y2="611.5" stroke="#000" stroke-width="2.6"/>
<line x1="1246.5" y1="1097.7" x2="1257.5" y2="1077.7" stroke="#000" stroke-width="2.6"/>
<line x1="1257.5" y1="1097.7" x2="1268.5" y2="1077.7" stroke="#000" stroke-width="2.6"/>
<line x1="943.3" y1="714.5" x2="953.8" y2="714.5" stroke="#000" stroke-width="3.7"/><line x1="943.3" y1="807.8" x2="953.8" y2="807.8" stroke="#000" stroke-width="3.7"/><line x1="943.3" y1="901.1" x2="953.8" y2="901.1" stroke="#000" stroke-width="3.7"/><line x1="943.3" y1="994.4" x2="953.8" y2="994.4" stroke="#000" stroke-width="3.7"/>
<line x1="943.3" y1="667.9" x2="949.3" y2="667.9" stroke="#000" stroke-width="3.4"/><line x1="943.3" y1="761.2" x2="949.3" y2="761.2" stroke="#000" stroke-width="3.4"/><line x1="943.3" y1="854.5" x2="949.3" y2="854.5" stroke="#000" stroke-width="3.4"/><line x1="943.3" y1="947.8" x2="949.3" y2="947.8" stroke="#000" stroke-width="3.4"/><line x1="943.3" y1="1041.0" x2="949.3" y2="1041.0" stroke="#000" stroke-width="3.4"/>
<line x1="1025.5" y1="1087.7" x2="1025.5" y2="1077.2" stroke="#000" stroke-width="3.7"/><line x1="1107.7" y1="1087.7" x2="1107.7" y2="1077.2" stroke="#000" stroke-width="3.7"/><line x1="1189.9" y1="1087.7" x2="1189.9" y2="1077.2" stroke="#000" stroke-width="3.7"/><line x1="1324.0" y1="1087.7" x2="1324.0" y2="1077.2" stroke="#000" stroke-width="3.7"/><line x1="1406.4" y1="1087.7" x2="1406.4" y2="1077.2" stroke="#000" stroke-width="3.7"/><line x1="1488.8" y1="1087.7" x2="1488.8" y2="1077.2" stroke="#000" stroke-width="3.7"/>
<line x1="984.4" y1="1087.7" x2="984.4" y2="1082.2" stroke="#000" stroke-width="3.4"/><line x1="1066.6" y1="1087.7" x2="1066.6" y2="1082.2" stroke="#000" stroke-width="3.4"/><line x1="1148.8" y1="1087.7" x2="1148.8" y2="1082.2" stroke="#000" stroke-width="3.4"/><line x1="1231.0" y1="1087.7" x2="1231.0" y2="1082.2" stroke="#000" stroke-width="3.4"/><line x1="1282.8" y1="1087.7" x2="1282.8" y2="1082.2" stroke="#000" stroke-width="3.4"/><line x1="1365.2" y1="1087.7" x2="1365.2" y2="1082.2" stroke="#000" stroke-width="3.4"/><line x1="1447.6" y1="1087.7" x2="1447.6" y2="1082.2" stroke="#000" stroke-width="3.4"/><line x1="1530.0" y1="1087.7" x2="1530.0" y2="1082.2" stroke="#000" stroke-width="3.4"/>
<text x="932.0" y="631.2" font-size="29" text-anchor="end" fill="#000" stroke="#000" stroke-width="0.7" font-family="'Liberation Sans', sans-serif" font-weight="bold" >70</text>
<text x="932.0" y="724.5" font-size="29" text-anchor="end" fill="#000" stroke="#000" stroke-width="0.7" font-family="'Liberation Sans', sans-serif" font-weight="bold" >60</text>
<text x="932.0" y="817.8" font-size="29" text-anchor="end" fill="#000" stroke="#000" stroke-width="0.7" font-family="'Liberation Sans', sans-serif" font-weight="bold" >50</text>
<text x="932.0" y="911.1" font-size="29" text-anchor="end" fill="#000" stroke="#000" stroke-width="0.7" font-family="'Liberation Sans', sans-serif" font-weight="bold" >40</text>
<text x="932.0" y="1004.4" font-size="29" text-anchor="end" fill="#000" stroke="#000" stroke-width="0.7" font-family="'Liberation Sans', sans-serif" font-weight="bold" >30</text>
<text x="932.0" y="1097.7" font-size="29" text-anchor="end" fill="#000" stroke="#000" stroke-width="0.7" font-family="'Liberation Sans', sans-serif" font-weight="bold" >20</text>
<text x="943.3" y="1120.8" font-size="29" text-anchor="middle" fill="#000" stroke="#000" stroke-width="0.7" font-family="'Liberation Sans', sans-serif" font-weight="bold" >44</text>
<text x="1025.5" y="1120.8" font-size="29" text-anchor="middle" fill="#000" stroke="#000" stroke-width="0.7" font-family="'Liberation Sans', sans-serif" font-weight="bold" >45</text>
<text x="1107.7" y="1120.8" font-size="29" text-anchor="middle" fill="#000" stroke="#000" stroke-width="0.7" font-family="'Liberation Sans', sans-serif" font-weight="bold" >46</text>
<text x="1189.9" y="1120.8" font-size="29" text-anchor="middle" fill="#000" stroke="#000" stroke-width="0.7" font-family="'Liberation Sans', sans-serif" font-weight="bold" >47</text>
<text x="1324.0" y="1120.8" font-size="29" text-anchor="middle" fill="#000" stroke="#000" stroke-width="0.7" font-family="'Liberation Sans', sans-serif" font-weight="bold" >56</text>
<text x="1406.4" y="1120.8" font-size="29" text-anchor="middle" fill="#000" stroke="#000" stroke-width="0.7" font-family="'Liberation Sans', sans-serif" font-weight="bold" >57</text>
<text x="1488.8" y="1120.8" font-size="29" text-anchor="middle" fill="#000" stroke="#000" stroke-width="0.7" font-family="'Liberation Sans', sans-serif" font-weight="bold" >58</text>
<text x="1571.2" y="1120.8" font-size="29" text-anchor="middle" fill="#000" stroke="#000" stroke-width="0.7" font-family="'Liberation Sans', sans-serif" font-weight="bold" >59</text>
<text x="1258.0" y="1168.0" font-size="39" text-anchor="middle" fill="#000" stroke="#000" stroke-width="0.7" font-family="'Liberation Sans', sans-serif" font-weight="bold" >Time (s)</text>
<text transform="translate(883,879) rotate(-90)" font-size="40" text-anchor="middle" textLength="230.5" lengthAdjust="spacingAndGlyphs" fill="#000" stroke="#000" stroke-width="0.7" font-family="'Liberation Sans', sans-serif" font-weight="bold">Current (μA)</text>
<line x1="990" y1="653.8" x2="1044" y2="653.8" stroke="#1d31fa" stroke-width="2.6"/><circle cx="1017.5" cy="653.8" r="4.8" fill="#1d31fa"/>
<text x="1051.0" y="661.8" font-size="24" text-anchor="start" fill="#000" stroke="#000" stroke-width="0.7" font-family="'Liberation Sans', sans-serif" font-weight="bold" >armchair</text>
<line x1="1152" y1="653.8" x2="1206" y2="653.8" stroke="#fb1226" stroke-width="2.6"/><circle cx="1180.4" cy="653.8" r="4.8" fill="#fb1226"/>
<text x="1213.5" y="661.8" font-size="24" text-anchor="start" fill="#000" stroke="#000" stroke-width="0.7" font-family="'Liberation Sans', sans-serif" font-weight="bold" >zigzag</text>
<line x1="1120.0" y1="842.0" x2="1125.8" y2="766.5" stroke="#000" stroke-width="2.3"/><polygon points="1127.0,751.5 1129.8,766.8 1121.9,766.1" fill="#000" />
<line x1="1378.3" y1="743.7" x2="1386.0" y2="819.4" stroke="#000" stroke-width="2.3"/><polygon points="1387.5,834.3 1382.0,819.8 1390.0,819.0" fill="#000" />
<line x1="1085.0" y1="1038.7" x2="1104.7" y2="978.7" stroke="#000" stroke-width="2.3"/><polygon points="1109.4,964.4 1108.5,979.9 1100.9,977.4" fill="#000" />
<line x1="1360.7" y1="947.8" x2="1380.2" y2="1000.2" stroke="#000" stroke-width="2.3"/><polygon points="1385.4,1014.3 1376.4,1001.6 1383.9,998.8" fill="#000" />
<text x="1070.6" y="802.0" font-size="23" text-anchor="start" fill="#000" stroke="#000" stroke-width="0.7" font-family="'Liberation Sans', sans-serif" font-weight="bold" >0.2s</text>
<text x="1388.8" y="801.0" font-size="23" text-anchor="start" fill="#000" stroke="#000" stroke-width="0.7" font-family="'Liberation Sans', sans-serif" font-weight="bold" >0.2s</text>
<text x="1051.0" y="1003.0" font-size="23" text-anchor="start" fill="#000" stroke="#000" stroke-width="0.7" font-family="'Liberation Sans', sans-serif" font-weight="bold" >0.4s</text>
<text x="1381.0" y="990.5" font-size="23" text-anchor="start" fill="#000" stroke="#000" stroke-width="0.7" font-family="'Liberation Sans', sans-serif" font-weight="bold" >0.4s</text>
</g>
<text transform="translate(9.6,82.5) scale(0.92,1)" font-size="64" fill="#000" stroke="#000" stroke-width="0.8" font-family="'Liberation Sans', sans-serif" font-weight="bold">(a)</text>
<text transform="translate(796.5,82.5) scale(0.92,1)" font-size="64" fill="#000" stroke="#000" stroke-width="0.8" font-family="'Liberation Sans', sans-serif" font-weight="bold">(b)</text>
<text transform="translate(9.5,695) scale(0.92,1)" font-size="64" fill="#000" stroke="#000" stroke-width="0.8" font-family="'Liberation Sans', sans-serif" font-weight="bold">(c)</text>
<text transform="translate(796,695) scale(0.92,1)" font-size="64" fill="#000" stroke="#000" stroke-width="0.8" font-family="'Liberation Sans', sans-serif" font-weight="bold">(d)</text>
</g>
</svg>
</body>
</html>
